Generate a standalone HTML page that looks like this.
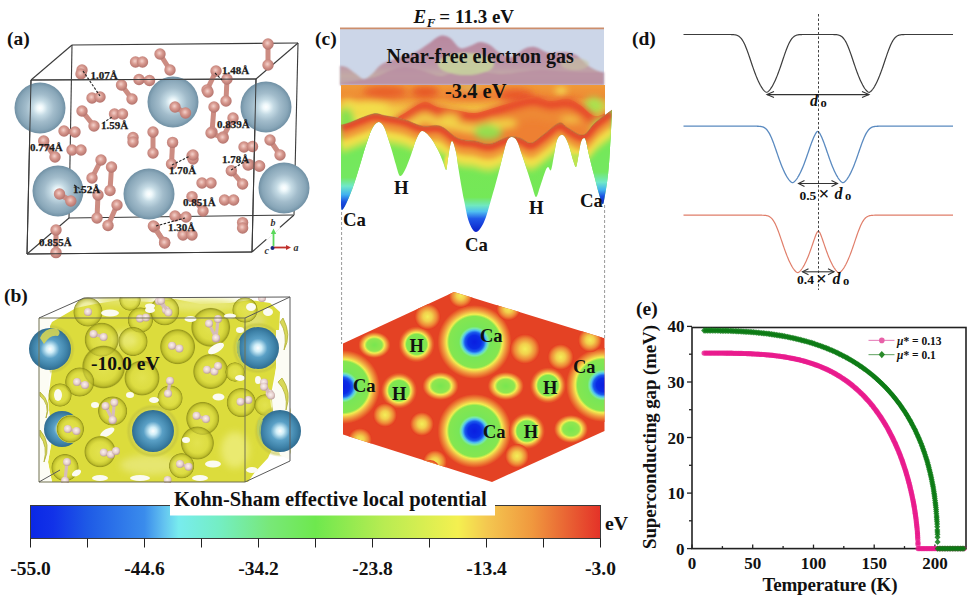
<!DOCTYPE html>
<html><head><meta charset="utf-8"><style>
html,body{margin:0;padding:0;background:#fff;width:970px;height:598px;overflow:hidden}
svg{display:block}
</style></head><body>
<svg width="970" height="598" viewBox="0 0 970 598" font-family="'Liberation Serif', serif" font-weight="bold">
<defs><radialGradient id="gCa" cx="0.5" cy="0.5" r="0.5">
<stop offset="0" stop-color="#ffffff"/><stop offset="0.12" stop-color="#eef8fb"/><stop offset="0.3" stop-color="#c4dae4"/>
<stop offset="0.55" stop-color="#a2bccb"/><stop offset="0.85" stop-color="#88a6b8"/><stop offset="1" stop-color="#7090a4"/></radialGradient><radialGradient id="gH" cx="0.45" cy="0.42" r="0.6">
<stop offset="0" stop-color="#f4d2cc"/><stop offset="0.45" stop-color="#d89a90"/><stop offset="1" stop-color="#b2706a"/></radialGradient><radialGradient id="gCaB" cx="0.5" cy="0.5" r="0.5">
<stop offset="0" stop-color="#ffffff"/><stop offset="0.18" stop-color="#d0eef8"/>
<stop offset="0.45" stop-color="#5aa0c6"/><stop offset="0.8" stop-color="#3e82a8"/><stop offset="1" stop-color="#306c90"/></radialGradient><radialGradient id="gHB" cx="0.45" cy="0.42" r="0.6">
<stop offset="0" stop-color="#fbf2f0"/><stop offset="0.6" stop-color="#e6cfcc"/><stop offset="1" stop-color="#b89a98"/></radialGradient><linearGradient id="gBar" x1="0" x2="1" y1="0" y2="0">
<stop offset="0" stop-color="#0a28e6"/><stop offset="0.04" stop-color="#1232e8"/>
<stop offset="0.1" stop-color="#1e5ae6"/><stop offset="0.2" stop-color="#3a8cec"/>
<stop offset="0.235" stop-color="#64c4f0"/><stop offset="0.26" stop-color="#78ecee"/>
<stop offset="0.33" stop-color="#74eec4"/><stop offset="0.42" stop-color="#78e878"/>
<stop offset="0.5" stop-color="#6ee84e"/><stop offset="0.62" stop-color="#b8ec52"/>
<stop offset="0.75" stop-color="#f4f050"/><stop offset="0.8" stop-color="#f4c850"/>
<stop offset="0.88" stop-color="#f0983e"/><stop offset="0.95" stop-color="#e85c32"/>
<stop offset="1" stop-color="#e43228"/></linearGradient><radialGradient id="gShell" cx="0.5" cy="0.5" r="0.5">
<stop offset="0" stop-color="#e8e860" stop-opacity="0.55"/><stop offset="0.6" stop-color="#dede48" stop-opacity="0.5"/>
<stop offset="0.84" stop-color="#b6b628" stop-opacity="0.7"/><stop offset="0.94" stop-color="#8a8a14" stop-opacity="0.8"/><stop offset="1" stop-color="#a8a830" stop-opacity="0"/></radialGradient><radialGradient id="gShellL" cx="0.5" cy="0.5" r="0.5">
<stop offset="0" stop-color="#f0f090" stop-opacity="0.6"/><stop offset="0.7" stop-color="#e4e468" stop-opacity="0.5"/>
<stop offset="0.9" stop-color="#c0c040" stop-opacity="0.6"/><stop offset="1" stop-color="#c0c040" stop-opacity="0"/></radialGradient><clipPath id="clipB"><rect x="39" y="297" width="252" height="186"/></clipPath><filter id="blur1" x="-20%" y="-20%" width="140%" height="140%"><feGaussianBlur stdDeviation="1.2"/></filter><filter id="blur2" x="-30%" y="-30%" width="160%" height="160%"><feGaussianBlur stdDeviation="2.5"/></filter><filter id="blur3" x="-30%" y="-30%" width="160%" height="160%"><feGaussianBlur stdDeviation="3.5"/></filter><filter id="blur4" x="-30%" y="-30%" width="160%" height="160%"><feGaussianBlur stdDeviation="5"/></filter><clipPath id="clipBack"><path d="M341,85 L612,85 L612,110 C609.2,112.2 599.8,118.8 595,123 C590.2,127.2 587.5,134.2 583,135 C578.5,135.8 572.0,130.0 568,128 C564.0,126.0 563.2,121.8 559,123 C554.8,124.2 547.7,131.7 543,135 C538.3,138.3 534.8,142.5 531,143 C527.2,143.5 523.8,139.0 520,138 C516.2,137.0 513.0,136.0 508,137 C503.0,138.0 495.5,143.3 490,144 C484.5,144.7 479.5,141.7 475,141 C470.5,140.3 466.3,140.4 463,139.7 C459.7,139.0 458.8,139.0 455,136.7 C451.2,134.4 445.5,127.8 440,126 C434.5,124.2 428.0,127.1 422,126 C416.0,124.9 410.2,121.1 404,119.4 C397.8,117.7 389.9,116.5 384.7,115.6 C379.5,114.7 378.6,112.8 372.6,114 C366.6,115.2 353.8,121.2 348.5,123 C343.2,124.8 342.2,124.7 341,125Z"/></clipPath><clipPath id="clipFront"><path d="M341,125 C342.2,124.7 343.2,124.8 348.5,123 C353.8,121.2 366.6,115.2 372.6,114 C378.6,112.8 379.5,114.7 384.7,115.6 C389.9,116.5 397.8,117.7 404,119.4 C410.2,121.1 416.0,124.9 422,126 C428.0,127.1 434.5,124.2 440,126 C445.5,127.8 451.2,134.4 455,136.7 C458.8,139.0 459.7,139.0 463,139.7 C466.3,140.4 470.5,140.3 475,141 C479.5,141.7 484.5,144.7 490,144 C495.5,143.3 503.0,138.0 508,137 C513.0,136.0 516.2,137.0 520,138 C523.8,139.0 527.2,143.5 531,143 C534.8,142.5 538.3,138.3 543,135 C547.7,131.7 554.8,124.2 559,123 C563.2,121.8 564.0,126.0 568,128 C572.0,130.0 578.5,135.8 583,135 C587.5,134.2 590.2,127.2 595,123 C599.8,118.8 609.2,112.2 612,110 L612,110 C611.7,116.7 610.7,139.2 610,150 C609.3,160.8 608.9,167.0 608,175 C607.1,183.0 605.4,193.2 604.5,198 C603.6,202.8 603.5,204.7 602.6,204 C601.7,203.3 600.4,198.8 599,194 C597.6,189.2 595.7,181.5 594,175 C592.3,168.5 590.3,160.7 589,155 C587.7,149.3 586.8,143.8 586,141 C585.2,138.2 584.8,137.8 584,138 C583.2,138.2 582.0,138.7 581,142 C580.0,145.3 578.8,153.8 578,158 C577.2,162.2 576.8,166.7 576,167 C575.2,167.3 574.2,163.5 573,160 C571.8,156.5 570.3,149.8 569,146 C567.7,142.2 566.3,138.8 565,137 C563.7,135.2 562.3,134.5 561,135 C559.7,135.5 558.2,136.7 557,140 C555.8,143.3 555.0,150.0 554,155 C553.0,160.0 552.0,168.0 551,170 C550.0,172.0 549.0,166.7 548,167 C547.0,167.3 546.3,168.7 545,172 C543.7,175.3 541.5,182.8 540,187 C538.5,191.2 537.3,197.2 536,197 C534.7,196.8 533.5,190.5 532,186 C530.5,181.5 528.7,175.2 527,170 C525.3,164.8 523.7,159.8 522,155 C520.3,150.2 518.7,144.0 517,141 C515.3,138.0 513.7,137.0 512,137 C510.3,137.0 508.5,138.0 507,141 C505.5,144.0 504.5,149.3 503,155 C501.5,160.7 500.0,167.5 498,175 C496.0,182.5 493.3,192.2 491,200 C488.7,207.8 486.5,216.7 484,222 C481.5,227.3 478.5,232.0 476,232 C473.5,232.0 471.0,227.3 469,222 C467.0,216.7 465.7,208.3 464,200 C462.3,191.7 460.3,180.0 459,172 C457.7,164.0 457.2,157.2 456,152 C454.8,146.8 453.2,141.0 452,141 C450.8,141.0 449.8,147.8 449,152 C448.2,156.2 447.5,163.0 447,166 C446.5,169.0 446.7,170.7 446,170 C445.3,169.3 444.3,165.3 443,162 C441.7,158.7 440.2,154.2 438,150 C435.8,145.8 432.7,140.2 430,137 C427.3,133.8 424.3,130.5 422,131 C419.7,131.5 417.8,136.0 416,140 C414.2,144.0 412.8,150.0 411,155 C409.2,160.0 406.8,166.5 405,170 C403.2,173.5 401.5,176.8 400,176 C398.5,175.2 397.3,169.2 396,165 C394.7,160.8 393.3,155.5 392,151 C390.7,146.5 389.3,142.0 388,138 C386.7,134.0 385.5,129.7 384,127 C382.5,124.3 380.8,122.0 379,122 C377.2,122.0 375.0,123.7 373,127 C371.0,130.3 369.2,135.7 367,142 C364.8,148.3 362.3,157.5 360,165 C357.7,172.5 355.3,180.5 353,187 C350.7,193.5 347.8,200.2 346,204 C344.2,207.8 342.8,209.8 342,210 C341.2,210.2 341.2,205.8 341,205Z"/></clipPath><clipPath id="clipHex"><path d="M454,292 L604.5,338.3 L604.5,431 L492,482 L343,434.5 L343,343.5Z"/></clipPath><linearGradient id="gBack" x1="0" x2="0" y1="85" y2="145" gradientUnits="userSpaceOnUse"><stop offset="0" stop-color="#f09a38"/><stop offset="0.2" stop-color="#ee8a34"/><stop offset="0.38" stop-color="#f2c444"/><stop offset="0.55" stop-color="#f0e24c"/><stop offset="0.8" stop-color="#a8e454"/><stop offset="1" stop-color="#78e458"/></linearGradient><linearGradient id="gFrontBase" x1="0" x2="0" y1="130" y2="232" gradientUnits="userSpaceOnUse"><stop offset="0" stop-color="#7ae652"/><stop offset="0.66" stop-color="#74e858"/><stop offset="0.74" stop-color="#70e8c0"/><stop offset="0.8" stop-color="#50c0f0"/><stop offset="0.87" stop-color="#2058e8"/><stop offset="1" stop-color="#0a20c8"/></linearGradient><linearGradient id="gSpR" x1="0" x2="0" y1="140" y2="204" gradientUnits="userSpaceOnUse"><stop offset="0" stop-color="#74e858"/><stop offset="0.5" stop-color="#74e860"/><stop offset="0.66" stop-color="#70e8c8"/><stop offset="0.78" stop-color="#40b0f0"/><stop offset="0.88" stop-color="#1a50e0"/><stop offset="1" stop-color="#0a28c0"/></linearGradient><linearGradient id="gSpL" x1="0" x2="0" y1="140" y2="212" gradientUnits="userSpaceOnUse"><stop offset="0" stop-color="#74e858"/><stop offset="0.52" stop-color="#74e860"/><stop offset="0.64" stop-color="#70e8c8"/><stop offset="0.76" stop-color="#40b0f0"/><stop offset="0.86" stop-color="#1a50e0"/><stop offset="1" stop-color="#0a28c0"/></linearGradient><radialGradient id="gHexCa" cx="0.5" cy="0.5" r="0.5"><stop offset="0" stop-color="#0a1ee0"/><stop offset="0.18" stop-color="#0a2ce6"/><stop offset="0.26" stop-color="#1a5aec"/><stop offset="0.32" stop-color="#50c0f0"/><stop offset="0.37" stop-color="#78e8a8"/><stop offset="0.42" stop-color="#78e658"/><stop offset="0.69" stop-color="#84e650"/><stop offset="0.75" stop-color="#f2ee50"/><stop offset="0.85" stop-color="#f0a040"/><stop offset="0.95" stop-color="#e8602a"/><stop offset="1" stop-color="#e44224"/></radialGradient><radialGradient id="gHexH" cx="0.5" cy="0.5" r="0.5"><stop offset="0" stop-color="#78e650"/><stop offset="0.56" stop-color="#80e650"/><stop offset="0.66" stop-color="#f2ee50"/><stop offset="0.78" stop-color="#f0a040"/><stop offset="0.9" stop-color="#e8602a"/><stop offset="1" stop-color="#e44224"/></radialGradient><radialGradient id="gHexY" cx="0.5" cy="0.5" r="0.5"><stop offset="0" stop-color="#f4ee58"/><stop offset="0.35" stop-color="#f2d04c"/><stop offset="0.7" stop-color="#ee8a38"/><stop offset="1" stop-color="#e43a20"/></radialGradient><radialGradient id="gHexG" cx="0.5" cy="0.5" r="0.5"><stop offset="0" stop-color="#78e650"/><stop offset="0.48" stop-color="#90e650"/><stop offset="0.62" stop-color="#f2ee50"/><stop offset="0.78" stop-color="#f0a040"/><stop offset="0.92" stop-color="#e8602a"/><stop offset="1" stop-color="#e44224"/></radialGradient><linearGradient id="gMt" x1="0" x2="0" y1="35" y2="86" gradientUnits="userSpaceOnUse"><stop offset="0" stop-color="#b8889f"/><stop offset="0.55" stop-color="#bc94a8"/><stop offset="0.8" stop-color="#c2aaa6"/><stop offset="1" stop-color="#bca0a8"/></linearGradient><clipPath id="clipR"><rect x="341" y="80" width="264" height="100"/></clipPath></defs>
<g id="pa"><line x1="72" y1="45" x2="298" y2="43" stroke="#3a3a3a" stroke-width="1.1" /><line x1="31" y1="80" x2="256" y2="79" stroke="#3a3a3a" stroke-width="1.1" /><line x1="31" y1="80" x2="72" y2="45" stroke="#3a3a3a" stroke-width="1.1" /><line x1="256" y1="79" x2="298" y2="43" stroke="#3a3a3a" stroke-width="1.1" /><line x1="31" y1="80" x2="27" y2="254" stroke="#3a3a3a" stroke-width="1.1" /><line x1="72" y1="45" x2="69" y2="218" stroke="#3a3a3a" stroke-width="1.1" /><line x1="69" y1="218" x2="293" y2="215" stroke="#3a3a3a" stroke-width="1.1" /><line x1="69" y1="218" x2="27" y2="254" stroke="#3a3a3a" stroke-width="1.1" /><line x1="27" y1="254" x2="252" y2="252" stroke="#3a3a3a" stroke-width="1.1" /><line x1="256" y1="79" x2="252" y2="252" stroke="#3a3a3a" stroke-width="1.1" /><line x1="298" y1="43" x2="294" y2="215" stroke="#3a3a3a" stroke-width="1.1" /><line x1="294" y1="215" x2="252" y2="252" stroke="#3a3a3a" stroke-width="1.1" /><circle cx="40" cy="108" r="25.5" fill="url(#gCa)"/><circle cx="173" cy="102" r="25.5" fill="url(#gCa)"/><circle cx="266" cy="107" r="25.5" fill="url(#gCa)"/><circle cx="58" cy="191" r="25.5" fill="url(#gCa)"/><circle cx="149" cy="194" r="25.5" fill="url(#gCa)"/><circle cx="284" cy="188" r="25.5" fill="url(#gCa)"/><line x1="82" y1="70" x2="81" y2="74" stroke="#cc8c82" stroke-width="5"/><circle cx="82" cy="70" r="5.7" fill="url(#gH)"/><circle cx="81" cy="74" r="5.7" fill="url(#gH)"/><line x1="92" y1="98" x2="100" y2="97" stroke="#cc8c82" stroke-width="5"/><circle cx="92" cy="98" r="5.7" fill="url(#gH)"/><circle cx="100" cy="97" r="5.7" fill="url(#gH)"/><line x1="82" y1="111" x2="94" y2="126" stroke="#cc8c82" stroke-width="5"/><circle cx="82" cy="111" r="5.7" fill="url(#gH)"/><circle cx="94" cy="126" r="5.7" fill="url(#gH)"/><line x1="114.5" y1="114" x2="122.5" y2="114" stroke="#cc8c82" stroke-width="5"/><circle cx="114.5" cy="114" r="5.7" fill="url(#gH)"/><circle cx="122.5" cy="114" r="5.7" fill="url(#gH)"/><line x1="135.5" y1="62" x2="142.5" y2="62" stroke="#cc8c82" stroke-width="5"/><circle cx="135.5" cy="62" r="5.7" fill="url(#gH)"/><circle cx="142.5" cy="62" r="5.7" fill="url(#gH)"/><line x1="160" y1="54" x2="170" y2="70" stroke="#cc8c82" stroke-width="5"/><circle cx="160" cy="54" r="5.7" fill="url(#gH)"/><circle cx="170" cy="70" r="5.7" fill="url(#gH)"/><line x1="139" y1="79.5" x2="149.5" y2="80.5" stroke="#cc8c82" stroke-width="5"/><circle cx="139" cy="79.5" r="5.7" fill="url(#gH)"/><circle cx="149.5" cy="80.5" r="5.7" fill="url(#gH)"/><line x1="121.5" y1="85" x2="132" y2="99" stroke="#cc8c82" stroke-width="5"/><circle cx="121.5" cy="85" r="5.7" fill="url(#gH)"/><circle cx="132" cy="99" r="5.7" fill="url(#gH)"/><line x1="64" y1="131" x2="75" y2="132" stroke="#cc8c82" stroke-width="5"/><circle cx="64" cy="131" r="5.7" fill="url(#gH)"/><circle cx="75" cy="132" r="5.7" fill="url(#gH)"/><line x1="268" y1="44" x2="268" y2="65" stroke="#cc8c82" stroke-width="5"/><circle cx="268" cy="44" r="5.7" fill="url(#gH)"/><circle cx="268" cy="65" r="5.7" fill="url(#gH)"/><line x1="216" y1="71" x2="207" y2="90" stroke="#cc8c82" stroke-width="5"/><circle cx="216" cy="71" r="5.7" fill="url(#gH)"/><circle cx="207" cy="90" r="5.7" fill="url(#gH)"/><line x1="227" y1="79" x2="226" y2="101" stroke="#cc8c82" stroke-width="5"/><circle cx="227" cy="79" r="5.7" fill="url(#gH)"/><circle cx="226" cy="101" r="5.7" fill="url(#gH)"/><line x1="175" y1="107" x2="185.5" y2="113" stroke="#cc8c82" stroke-width="5"/><circle cx="175" cy="107" r="5.7" fill="url(#gH)"/><circle cx="185.5" cy="113" r="5.7" fill="url(#gH)"/><line x1="214" y1="107" x2="212" y2="132" stroke="#cc8c82" stroke-width="5"/><circle cx="214" cy="107" r="5.7" fill="url(#gH)"/><circle cx="212" cy="132" r="5.7" fill="url(#gH)"/><line x1="233" y1="118" x2="223" y2="137" stroke="#cc8c82" stroke-width="5"/><circle cx="233" cy="118" r="5.7" fill="url(#gH)"/><circle cx="223" cy="137" r="5.7" fill="url(#gH)"/><line x1="211" y1="133" x2="223" y2="138" stroke="#cc8c82" stroke-width="5"/><circle cx="211" cy="133" r="5.7" fill="url(#gH)"/><circle cx="223" cy="138" r="5.7" fill="url(#gH)"/><line x1="244" y1="147" x2="252.5" y2="146.5" stroke="#cc8c82" stroke-width="5"/><circle cx="244" cy="147" r="5.7" fill="url(#gH)"/><circle cx="252.5" cy="146.5" r="5.7" fill="url(#gH)"/><line x1="270" y1="140" x2="280" y2="155" stroke="#cc8c82" stroke-width="5"/><circle cx="270" cy="140" r="5.7" fill="url(#gH)"/><circle cx="280" cy="155" r="5.7" fill="url(#gH)"/><line x1="249" y1="164.5" x2="259" y2="166" stroke="#cc8c82" stroke-width="5"/><circle cx="249" cy="164.5" r="5.7" fill="url(#gH)"/><circle cx="259" cy="166" r="5.7" fill="url(#gH)"/><line x1="43.7" y1="141" x2="55" y2="157" stroke="#cc8c82" stroke-width="5"/><circle cx="43.7" cy="141" r="5.7" fill="url(#gH)"/><circle cx="55" cy="157" r="5.7" fill="url(#gH)"/><line x1="72" y1="150" x2="81" y2="150" stroke="#cc8c82" stroke-width="5"/><circle cx="72" cy="150" r="5.7" fill="url(#gH)"/><circle cx="81" cy="150" r="5.7" fill="url(#gH)"/><line x1="133" y1="137.5" x2="133" y2="142" stroke="#cc8c82" stroke-width="5"/><circle cx="133" cy="137.5" r="5.7" fill="url(#gH)"/><circle cx="133" cy="142" r="5.7" fill="url(#gH)"/><line x1="153" y1="132" x2="153" y2="153" stroke="#cc8c82" stroke-width="5"/><circle cx="153" cy="132" r="5.7" fill="url(#gH)"/><circle cx="153" cy="153" r="5.7" fill="url(#gH)"/><line x1="59.5" y1="194" x2="70.8" y2="201" stroke="#cc8c82" stroke-width="5"/><circle cx="59.5" cy="194" r="5.7" fill="url(#gH)"/><circle cx="70.8" cy="201" r="5.7" fill="url(#gH)"/><line x1="92" y1="178" x2="101" y2="160" stroke="#cc8c82" stroke-width="5"/><circle cx="92" cy="178" r="5.7" fill="url(#gH)"/><circle cx="101" cy="160" r="5.7" fill="url(#gH)"/><line x1="111.5" y1="167" x2="110" y2="190.5" stroke="#cc8c82" stroke-width="5"/><circle cx="111.5" cy="167" r="5.7" fill="url(#gH)"/><circle cx="110" cy="190.5" r="5.7" fill="url(#gH)"/><line x1="98" y1="195" x2="97" y2="218" stroke="#cc8c82" stroke-width="5"/><circle cx="98" cy="195" r="5.7" fill="url(#gH)"/><circle cx="97" cy="218" r="5.7" fill="url(#gH)"/><line x1="117" y1="205" x2="108" y2="225.5" stroke="#cc8c82" stroke-width="5"/><circle cx="117" cy="205" r="5.7" fill="url(#gH)"/><circle cx="108" cy="225.5" r="5.7" fill="url(#gH)"/><line x1="154.4" y1="227" x2="164.6" y2="242.5" stroke="#cc8c82" stroke-width="5"/><circle cx="154.4" cy="227" r="5.7" fill="url(#gH)"/><circle cx="164.6" cy="242.5" r="5.7" fill="url(#gH)"/><line x1="56" y1="230" x2="56" y2="252.6" stroke="#cc8c82" stroke-width="5"/><circle cx="56" cy="230" r="5.7" fill="url(#gH)"/><circle cx="56" cy="252.6" r="5.7" fill="url(#gH)"/><line x1="172.6" y1="142.4" x2="171.5" y2="164" stroke="#cc8c82" stroke-width="5"/><circle cx="172.6" cy="142.4" r="5.7" fill="url(#gH)"/><circle cx="171.5" cy="164" r="5.7" fill="url(#gH)"/><line x1="192" y1="156" x2="193" y2="159" stroke="#cc8c82" stroke-width="5"/><circle cx="192" cy="156" r="5.7" fill="url(#gH)"/><circle cx="193" cy="159" r="5.7" fill="url(#gH)"/><line x1="202" y1="183" x2="211" y2="183" stroke="#cc8c82" stroke-width="5"/><circle cx="202" cy="183" r="5.7" fill="url(#gH)"/><circle cx="211" cy="183" r="5.7" fill="url(#gH)"/><line x1="192" y1="196.6" x2="203" y2="211" stroke="#cc8c82" stroke-width="5"/><circle cx="192" cy="196.6" r="5.7" fill="url(#gH)"/><circle cx="203" cy="211" r="5.7" fill="url(#gH)"/><line x1="224.5" y1="200" x2="233.6" y2="200" stroke="#cc8c82" stroke-width="5"/><circle cx="224.5" cy="200" r="5.7" fill="url(#gH)"/><circle cx="233.6" cy="200" r="5.7" fill="url(#gH)"/><line x1="231.3" y1="170.7" x2="242.6" y2="184" stroke="#cc8c82" stroke-width="5"/><circle cx="231.3" cy="170.7" r="5.7" fill="url(#gH)"/><circle cx="242.6" cy="184" r="5.7" fill="url(#gH)"/><line x1="248" y1="165" x2="259.6" y2="166" stroke="#cc8c82" stroke-width="5"/><circle cx="248" cy="165" r="5.7" fill="url(#gH)"/><circle cx="259.6" cy="166" r="5.7" fill="url(#gH)"/><line x1="153.4" y1="226" x2="164.7" y2="243" stroke="#cc8c82" stroke-width="5"/><circle cx="153.4" cy="226" r="5.7" fill="url(#gH)"/><circle cx="164.7" cy="243" r="5.7" fill="url(#gH)"/><line x1="175" y1="216" x2="186" y2="217" stroke="#cc8c82" stroke-width="5"/><circle cx="175" cy="216" r="5.7" fill="url(#gH)"/><circle cx="186" cy="217" r="5.7" fill="url(#gH)"/><line x1="183" y1="235" x2="192" y2="235" stroke="#cc8c82" stroke-width="5"/><circle cx="183" cy="235" r="5.7" fill="url(#gH)"/><circle cx="192" cy="235" r="5.7" fill="url(#gH)"/><line x1="242.6" y1="222.6" x2="242.6" y2="228" stroke="#cc8c82" stroke-width="5"/><circle cx="242.6" cy="222.6" r="5.7" fill="url(#gH)"/><circle cx="242.6" cy="228" r="5.7" fill="url(#gH)"/><circle cx="193" cy="155" r="5.7" fill="url(#gH)"/><circle cx="208" cy="92" r="5.7" fill="url(#gH)"/><line x1="31" y1="80" x2="256" y2="79" stroke="#3a3a3a" stroke-width="1.0" /><line x1="31" y1="80" x2="27" y2="254" stroke="#3a3a3a" stroke-width="1.0" /><line x1="27" y1="254" x2="252" y2="252" stroke="#3a3a3a" stroke-width="1.0" /><line x1="256" y1="79" x2="252" y2="252" stroke="#3a3a3a" stroke-width="1.0" /><line x1="83" y1="71" x2="100" y2="96" stroke="#222" stroke-width="1.1" stroke-dasharray="2.5,1.5"/><line x1="103" y1="123" x2="112" y2="117" stroke="#222" stroke-width="1.1" stroke-dasharray="2.5,1.5"/><line x1="215" y1="73" x2="222" y2="80" stroke="#222" stroke-width="1.1" stroke-dasharray="2.5,1.5"/><line x1="172" y1="165" x2="190" y2="156" stroke="#222" stroke-width="1.1" stroke-dasharray="2.5,1.5"/><line x1="231" y1="170" x2="247" y2="160" stroke="#222" stroke-width="1.1" stroke-dasharray="2.5,1.5"/><line x1="156" y1="226" x2="185" y2="218" stroke="#222" stroke-width="1.1" stroke-dasharray="2.5,1.5"/><line x1="74" y1="185" x2="82" y2="190" stroke="#222" stroke-width="1.1" stroke-dasharray="2.5,1.5"/><line x1="90" y1="188" x2="98" y2="192" stroke="#222" stroke-width="1.1" stroke-dasharray="2.5,1.5"/><text x="90.5" y="78.5" font-size="11" fill="#1a1a1a" stroke="#1a1a1a" stroke-width="0.25">1.07Å</text><text x="101" y="128.5" font-size="11" fill="#1a1a1a" stroke="#1a1a1a" stroke-width="0.25">1.59Å</text><text x="222" y="73.5" font-size="11" fill="#1a1a1a" stroke="#1a1a1a" stroke-width="0.25">1.48Å</text><text x="217" y="128" font-size="11" fill="#1a1a1a" stroke="#1a1a1a" stroke-width="0.25">0.839Å</text><text x="30" y="151" font-size="11" fill="#1a1a1a" stroke="#1a1a1a" stroke-width="0.25">0.774Å</text><text x="73" y="193" font-size="11" fill="#1a1a1a" stroke="#1a1a1a" stroke-width="0.25">1.52Å</text><text x="169" y="174" font-size="11" fill="#1a1a1a" stroke="#1a1a1a" stroke-width="0.25">1.70Å</text><text x="222" y="162.5" font-size="11" fill="#1a1a1a" stroke="#1a1a1a" stroke-width="0.25">1.78Å</text><text x="183" y="205.5" font-size="11" fill="#1a1a1a" stroke="#1a1a1a" stroke-width="0.25">0.851Å</text><text x="168" y="230.5" font-size="11" fill="#1a1a1a" stroke="#1a1a1a" stroke-width="0.25">1.30Å</text><text x="39" y="246" font-size="11" fill="#1a1a1a" stroke="#1a1a1a" stroke-width="0.25">0.855Å</text><line x1="279.5" y1="227" x2="266" y2="239" stroke="#fff" stroke-width="3"/><line x1="273.5" y1="246" x2="273.5" y2="233" stroke="#5ad85a" stroke-width="1.8"/><path d="M270.8,234 L273.5,228.5 L276.2,234Z" fill="#5ad85a"/><line x1="274" y1="247.5" x2="287" y2="247.5" stroke="#c0302c" stroke-width="1.8"/><path d="M286,245 L291,247.5 L286,250Z" fill="#c0302c"/><circle cx="272.5" cy="248" r="2" fill="#1a2a80"/><text x="270.5" y="226" font-size="10" font-style="italic" fill="#333">b</text><text x="293.5" y="250.5" font-size="10" font-style="italic" fill="#333">a</text><text x="264.5" y="253.5" font-size="10" font-style="italic" fill="#333">c</text><text x="7" y="44.7" font-size="19.5" fill="#111">(a)</text></g><g id="pb"><text x="4" y="301.7" font-size="19.5" fill="#111">(b)</text><g clip-path="url(#clipB)"><path d="M46,335 L52,322 L64,315 L76,308 L95,304 L120,300 L150,302 L175,299 L200,304 L230,303 L250,300 L270,303 L280,312 L279,330 L276,368 L270,400 L276,440 L268,458 L255,472 L248,482 L52,482 L48,462 L52,440 L48,400 L52,370 Z" fill="#dcdc3c"/><g filter="url(#blur3)"><ellipse cx="125" cy="340" rx="12" ry="8" fill="#eeee90"/><ellipse cx="235" cy="450" rx="14" ry="18" fill="#eaea70"/><ellipse cx="150" cy="465" rx="30" ry="10" fill="#e6e670"/><ellipse cx="200" cy="305" rx="40" ry="6" fill="#e8e878"/><ellipse cx="125" cy="300" rx="30" ry="5" fill="#e4e470"/><ellipse cx="255" cy="320" rx="10" ry="8" fill="#e0e070"/></g><circle cx="88" cy="312" r="15" fill="url(#gShell)"/><circle cx="101.7" cy="339.7" r="17.5" fill="url(#gShell)"/><circle cx="140.4" cy="320" r="13" fill="url(#gShell)"/><circle cx="103.6" cy="367" r="22" fill="url(#gShell)"/><circle cx="133" cy="341.5" r="15" fill="url(#gShell)"/><circle cx="79.7" cy="382" r="15" fill="url(#gShell)"/><circle cx="142" cy="378" r="18" fill="url(#gShell)"/><circle cx="164.7" cy="310.8" r="15" fill="url(#gShell)"/><circle cx="177.6" cy="346.7" r="18" fill="url(#gShell)"/><circle cx="210.7" cy="327.3" r="20" fill="url(#gShell)"/><circle cx="210.7" cy="371.5" r="18" fill="url(#gShell)"/><circle cx="70.4" cy="429" r="13" fill="url(#gShell)"/><circle cx="100" cy="451.7" r="16" fill="url(#gShell)"/><circle cx="112.6" cy="411" r="15" fill="url(#gShell)"/><circle cx="65" cy="467.6" r="14" fill="url(#gShell)"/><circle cx="202.7" cy="418.4" r="17" fill="url(#gShell)"/><circle cx="241.3" cy="402.6" r="15" fill="url(#gShell)"/><circle cx="197.4" cy="443" r="17" fill="url(#gShell)"/><circle cx="181.6" cy="465.8" r="13" fill="url(#gShell)"/><circle cx="245" cy="310" r="13" fill="url(#gShell)"/><circle cx="60" cy="350" r="10" fill="url(#gShell)"/><circle cx="170" cy="398" r="13" fill="url(#gShell)"/><circle cx="265" cy="405" r="11" fill="url(#gShell)"/><circle cx="235" cy="372" r="10" fill="url(#gShell)"/><circle cx="130" cy="300" r="11" fill="url(#gShell)"/><circle cx="60" cy="395" r="12" fill="url(#gShell)"/><circle cx="153" cy="431" r="27" fill="url(#gShellL)"/><circle cx="258" cy="348" r="26" fill="url(#gShellL)"/><circle cx="280" cy="431" r="26" fill="url(#gShellL)"/><circle cx="50" cy="349" r="25" fill="url(#gShellL)"/><ellipse cx="216" cy="348.5" rx="9" ry="4" transform="rotate(-30 216 348.5)" fill="#fbfbf2"/><ellipse cx="251" cy="307" rx="5" ry="4" transform="rotate(0 251 307)" fill="#fbfbf2"/><ellipse cx="190.5" cy="319" rx="6" ry="3" transform="rotate(0 190.5 319)" fill="#fbfbf2"/><ellipse cx="240" cy="378" rx="5" ry="3" transform="rotate(0 240 378)" fill="#fbfbf2"/><ellipse cx="218.5" cy="397" rx="6" ry="3.5" transform="rotate(0 218.5 397)" fill="#fbfbf2"/><ellipse cx="213" cy="464" rx="8" ry="3.5" transform="rotate(0 213 464)" fill="#fbfbf2"/><ellipse cx="107.3" cy="432.4" rx="8" ry="3.5" transform="rotate(-30 107.3 432.4)" fill="#fbfbf2"/><ellipse cx="76.5" cy="473" rx="5" ry="3" transform="rotate(-30 76.5 473)" fill="#fbfbf2"/><ellipse cx="110" cy="313" rx="9" ry="3.5" transform="rotate(0 110 313)" fill="#fbfbf2"/><ellipse cx="154" cy="400" rx="5" ry="3" transform="rotate(0 154 400)" fill="#fbfbf2"/><ellipse cx="130" cy="395" rx="4" ry="3" transform="rotate(0 130 395)" fill="#fbfbf2"/><ellipse cx="95" cy="405" rx="4" ry="3" transform="rotate(0 95 405)" fill="#fbfbf2"/><ellipse cx="240" cy="330" rx="4" ry="3" transform="rotate(0 240 330)" fill="#fbfbf2"/><ellipse cx="186" cy="440" rx="4" ry="3" transform="rotate(0 186 440)" fill="#fbfbf2"/><ellipse cx="140" cy="478" rx="10" ry="3" transform="rotate(0 140 478)" fill="#fbfbf2"/><ellipse cx="100" cy="478" rx="8" ry="3" transform="rotate(0 100 478)" fill="#fbfbf2"/><ellipse cx="200" cy="478" rx="8" ry="3" transform="rotate(0 200 478)" fill="#fbfbf2"/><ellipse cx="58" cy="395" rx="4" ry="6" transform="rotate(0 58 395)" fill="#fbfbf2"/><ellipse cx="258" cy="380" rx="3" ry="4" transform="rotate(0 258 380)" fill="#fbfbf2"/><ellipse cx="150" cy="306" rx="5" ry="2.5" transform="rotate(0 150 306)" fill="#fbfbf2"/><ellipse cx="230" cy="316" rx="6" ry="2.5" transform="rotate(0 230 316)" fill="#fbfbf2"/><ellipse cx="268" cy="312" rx="5" ry="4" transform="rotate(0 268 312)" fill="#fbfbf2"/><ellipse cx="284" cy="448" rx="6" ry="5" transform="rotate(0 284 448)" fill="#fbfbf2"/><ellipse cx="150" cy="310" rx="5" ry="3" transform="rotate(0 150 310)" fill="#fbfbf2"/><ellipse cx="252" cy="470" rx="6" ry="3" transform="rotate(0 252 470)" fill="#fbfbf2"/><path d="M39,318 L50,318 L50,330 L46,360 L50,372 L48,400 L52,440 L48,462 L52,482 L39,482Z" fill="#fcfcf4"/><path d="M276,330 L290,330 L290,460 L280,455 L276,440 L272,400 L276,368Z" fill="#fcfcf4"/><path d="M40,392 Q52,402 46,418 Q50,404 40,396Z" fill="#d8d858" stroke="#b0b038" stroke-width="0.8"/><path d="M40,430 Q52,444 44,462 Q48,446 40,436Z" fill="#d8d858" stroke="#b0b038" stroke-width="0.8"/><path d="M283,318 Q292,335 284,350 Q288,334 280,322Z" fill="#d8d858" stroke="#b0b038" stroke-width="0.8"/><path d="M282,378 Q292,392 286,410 Q288,392 278,382Z" fill="#d8d858" stroke="#b0b038" stroke-width="0.8"/><circle cx="62" cy="429" r="18" fill="url(#gCaB)"/><circle cx="70.4" cy="429" r="14" fill="#dcdc3c"/><circle cx="70.4" cy="429" r="14" fill="url(#gShell)"/><circle cx="100" cy="451.7" r="16" fill="#dcdc3c"/><circle cx="100" cy="451.7" r="16" fill="url(#gShell)"/></g><circle cx="50" cy="349" r="21" fill="url(#gCaB)"/><circle cx="258" cy="348" r="21" fill="url(#gCaB)"/><circle cx="153" cy="431" r="21" fill="url(#gCaB)"/><circle cx="280" cy="431" r="21" fill="url(#gCaB)"/><path d="M40,338 Q44,328 56,328 Q62,332 58,336 Q50,334 44,344Z" fill="#d4d454" fill-opacity="0.9"/><path d="M240,340 Q238,355 244,366 Q236,356 236,342Z" fill="#b8d060" fill-opacity="0.8"/><path d="M263,420 Q258,432 264,446 Q254,434 258,420Z" fill="#b8d060" fill-opacity="0.8"/><g clip-path="url(#clipB)"><circle cx="88" cy="312" r="4" fill="url(#gHB)"/><line x1="93.5" y1="334" x2="103.6" y2="337" stroke="#d6bcba" stroke-width="3.2"/><circle cx="93.5" cy="334" r="4" fill="url(#gHB)"/><circle cx="103.6" cy="337" r="4" fill="url(#gHB)"/><line x1="140" y1="318.5" x2="146" y2="317.6" stroke="#d6bcba" stroke-width="3.2"/><circle cx="140" cy="318.5" r="4" fill="url(#gHB)"/><circle cx="146" cy="317.6" r="4" fill="url(#gHB)"/><line x1="159" y1="301" x2="166" y2="310" stroke="#d6bcba" stroke-width="3.2"/><circle cx="159" cy="301" r="4" fill="url(#gHB)"/><circle cx="166" cy="310" r="4" fill="url(#gHB)"/><line x1="77" y1="382" x2="85" y2="385" stroke="#d6bcba" stroke-width="3.2"/><circle cx="77" cy="382" r="4" fill="url(#gHB)"/><circle cx="85" cy="385" r="4" fill="url(#gHB)"/><line x1="161" y1="300.6" x2="168.4" y2="312.6" stroke="#d6bcba" stroke-width="3.2"/><circle cx="161" cy="300.6" r="4" fill="url(#gHB)"/><circle cx="168.4" cy="312.6" r="4" fill="url(#gHB)"/><line x1="218" y1="319" x2="216" y2="338.4" stroke="#d6bcba" stroke-width="3.2"/><circle cx="218" cy="319" r="4" fill="url(#gHB)"/><circle cx="216" cy="338.4" r="4" fill="url(#gHB)"/><line x1="209" y1="323.6" x2="216" y2="338" stroke="#d6bcba" stroke-width="3.2"/><circle cx="209" cy="323.6" r="4" fill="url(#gHB)"/><circle cx="216" cy="338" r="4" fill="url(#gHB)"/><line x1="172" y1="345.7" x2="179.4" y2="348.5" stroke="#d6bcba" stroke-width="3.2"/><circle cx="172" cy="345.7" r="4" fill="url(#gHB)"/><circle cx="179.4" cy="348.5" r="4" fill="url(#gHB)"/><line x1="207" y1="369.7" x2="214.4" y2="371.5" stroke="#d6bcba" stroke-width="3.2"/><circle cx="207" cy="369.7" r="4" fill="url(#gHB)"/><circle cx="214.4" cy="371.5" r="4" fill="url(#gHB)"/><circle cx="218" cy="366" r="4" fill="url(#gHB)"/><line x1="170" y1="380.7" x2="168" y2="393.6" stroke="#d6bcba" stroke-width="3.2"/><circle cx="170" cy="380.7" r="4" fill="url(#gHB)"/><circle cx="168" cy="393.6" r="4" fill="url(#gHB)"/><circle cx="262" cy="298" r="4" fill="url(#gHB)"/><line x1="264" y1="382.5" x2="269.6" y2="393.6" stroke="#d6bcba" stroke-width="3.2"/><circle cx="264" cy="382.5" r="4" fill="url(#gHB)"/><circle cx="269.6" cy="393.6" r="4" fill="url(#gHB)"/><line x1="67.8" y1="429" x2="76.5" y2="431" stroke="#d6bcba" stroke-width="3.2"/><circle cx="67.8" cy="429" r="4" fill="url(#gHB)"/><circle cx="76.5" cy="431" r="4" fill="url(#gHB)"/><line x1="114.3" y1="402.6" x2="112.6" y2="420" stroke="#d6bcba" stroke-width="3.2"/><circle cx="114.3" cy="402.6" r="4" fill="url(#gHB)"/><circle cx="112.6" cy="420" r="4" fill="url(#gHB)"/><line x1="105.5" y1="406" x2="112.6" y2="420" stroke="#d6bcba" stroke-width="3.2"/><circle cx="105.5" cy="406" r="4" fill="url(#gHB)"/><circle cx="112.6" cy="420" r="4" fill="url(#gHB)"/><line x1="103.8" y1="452.6" x2="110.8" y2="454.4" stroke="#d6bcba" stroke-width="3.2"/><circle cx="103.8" cy="452.6" r="4" fill="url(#gHB)"/><circle cx="110.8" cy="454.4" r="4" fill="url(#gHB)"/><circle cx="116" cy="451" r="4" fill="url(#gHB)"/><line x1="67" y1="462" x2="65" y2="480.7" stroke="#d6bcba" stroke-width="3.2"/><circle cx="67" cy="462" r="4" fill="url(#gHB)"/><circle cx="65" cy="480.7" r="4" fill="url(#gHB)"/><line x1="196.5" y1="415.7" x2="206" y2="419" stroke="#d6bcba" stroke-width="3.2"/><circle cx="196.5" cy="415.7" r="4" fill="url(#gHB)"/><circle cx="206" cy="419" r="4" fill="url(#gHB)"/><line x1="240.5" y1="401.7" x2="248.4" y2="400" stroke="#d6bcba" stroke-width="3.2"/><circle cx="240.5" cy="401.7" r="4" fill="url(#gHB)"/><circle cx="248.4" cy="400" r="4" fill="url(#gHB)"/><line x1="264" y1="386.8" x2="271" y2="395.5" stroke="#d6bcba" stroke-width="3.2"/><circle cx="264" cy="386.8" r="4" fill="url(#gHB)"/><circle cx="271" cy="395.5" r="4" fill="url(#gHB)"/><line x1="180" y1="464" x2="188.6" y2="466.7" stroke="#d6bcba" stroke-width="3.2"/><circle cx="180" cy="464" r="4" fill="url(#gHB)"/><circle cx="188.6" cy="466.7" r="4" fill="url(#gHB)"/><circle cx="167.6" cy="480" r="4" fill="url(#gHB)"/></g><line x1="39" y1="318" x2="245" y2="318" stroke="#707050" stroke-width="1.0" /><line x1="84" y1="298" x2="290" y2="297" stroke="#5a5a5a" stroke-width="1.0" /><line x1="39" y1="318" x2="84" y2="298" stroke="#5a5a5a" stroke-width="1.0" /><line x1="245" y1="318" x2="290" y2="297" stroke="#5a5a5a" stroke-width="1.0" /><line x1="39" y1="318" x2="39" y2="482" stroke="#707050" stroke-width="1.0" /><line x1="39" y1="482" x2="245" y2="482" stroke="#707050" stroke-width="1.0" /><line x1="245" y1="318" x2="245" y2="482" stroke="#707050" stroke-width="1.0" /><line x1="290" y1="297" x2="290" y2="461" stroke="#5a5a5a" stroke-width="1.0" /><line x1="245" y1="482" x2="290" y2="461" stroke="#5a5a5a" stroke-width="1.0" /><line x1="39" y1="482" x2="60" y2="470" stroke="#5a5a5a" stroke-width="1.0" /><text x="91" y="370" font-size="19.6" fill="#111">-10.0 eV</text></g><g id="pcb"><rect x="30.5" y="505.5" width="570" height="33" fill="url(#gBar)" stroke="#3a3a3a" stroke-width="1"/><rect x="170" y="486" width="325" height="29.5" fill="#fff"/><text x="174" y="506" font-size="20.5" fill="#111">Kohn-Sham effective local potential</text><line x1="30.5" y1="538.5" x2="30.5" y2="547.5" stroke="#222" stroke-width="1"/><line x1="87.5" y1="538.5" x2="87.5" y2="547.5" stroke="#222" stroke-width="1"/><line x1="144.5" y1="538.5" x2="144.5" y2="547.5" stroke="#222" stroke-width="1"/><line x1="201.5" y1="538.5" x2="201.5" y2="547.5" stroke="#222" stroke-width="1"/><line x1="258.5" y1="538.5" x2="258.5" y2="547.5" stroke="#222" stroke-width="1"/><line x1="315.5" y1="538.5" x2="315.5" y2="547.5" stroke="#222" stroke-width="1"/><line x1="372.5" y1="538.5" x2="372.5" y2="547.5" stroke="#222" stroke-width="1"/><line x1="429.5" y1="538.5" x2="429.5" y2="547.5" stroke="#222" stroke-width="1"/><line x1="486.5" y1="538.5" x2="486.5" y2="547.5" stroke="#222" stroke-width="1"/><line x1="543.5" y1="538.5" x2="543.5" y2="547.5" stroke="#222" stroke-width="1"/><line x1="600.5" y1="538.5" x2="600.5" y2="547.5" stroke="#222" stroke-width="1"/><text x="30.5" y="575" font-size="19.5" text-anchor="middle" fill="#111">-55.0</text><text x="144.5" y="575" font-size="19.5" text-anchor="middle" fill="#111">-44.6</text><text x="258.5" y="575" font-size="19.5" text-anchor="middle" fill="#111">-34.2</text><text x="372.5" y="575" font-size="19.5" text-anchor="middle" fill="#111">-23.8</text><text x="486.5" y="575" font-size="19.5" text-anchor="middle" fill="#111">-13.4</text><text x="600.5" y="575" font-size="19.5" text-anchor="middle" fill="#111">-3.0</text><text x="605" y="529.5" font-size="19.8" fill="#111">eV</text></g><g id="pc"><text x="315" y="44.7" font-size="19.5" fill="#111">(c)</text><text x="413.5" y="23.3" font-size="19" fill="#111"><tspan font-style="italic">E</tspan><tspan font-style="italic" font-size="13" dy="3.4" dx="0.5">F</tspan><tspan dy="-3.4" dx="4">= 11.3 eV</tspan></text><rect x="340" y="28.5" width="264" height="57" fill="#ccd6e8"/><g filter="url(#blur1)"><clipPath id="cm"><rect x="340" y="29" width="264" height="56"/></clipPath><g clip-path="url(#cm)"><path d="M338,66 C339.3,66.2 343.0,65.7 346,67 C349.0,68.3 353.0,72.0 356,74 C359.0,76.0 361.3,79.0 364,79 C366.7,79.0 369.0,76.5 372,74 C375.0,71.5 377.7,66.7 382,64 C386.3,61.3 392.7,59.8 398,58 C403.3,56.2 409.0,55.3 414,53 C419.0,50.7 423.7,46.8 428,44 C432.3,41.2 436.3,37.0 440,36 C443.7,35.0 446.7,36.0 450,38 C453.3,40.0 456.7,46.7 460,48 C463.3,49.3 466.7,47.0 470,46 C473.3,45.0 476.7,42.2 480,42 C483.3,41.8 486.7,43.2 490,45 C493.3,46.8 496.3,51.0 500,53 C503.7,55.0 508.0,57.7 512,57 C516.0,56.3 520.2,50.7 524,49 C527.8,47.3 530.8,46.3 535,47 C539.2,47.7 544.3,52.2 549,53 C553.7,53.8 558.5,51.7 563,52 C567.5,52.3 571.5,52.5 576,55 C580.5,57.5 585.3,64.0 590,67 C594.7,70.0 600.7,71.8 604,73 C607.3,74.2 609.0,73.8 610,74 L610,90 L338,90Z" fill="url(#gMt)"/><path d="M338,84 C341.7,83.3 353.8,81.2 360,80 C366.2,78.8 369.7,78.7 375,77 C380.3,75.3 387.0,71.7 392,70 C397.0,68.3 400.3,67.0 405,67 C409.7,67.0 414.2,68.5 420,70 C425.8,71.5 434.2,75.7 440,76 C445.8,76.3 450.0,73.0 455,72 C460.0,71.0 462.5,69.7 470,70 C477.5,70.3 491.7,73.7 500,74 C508.3,74.3 513.3,72.7 520,72 C526.7,71.3 533.3,70.2 540,70 C546.7,69.8 553.3,70.7 560,71 C566.7,71.3 572.7,71.8 580,72 C587.3,72.2 599.0,72.0 604,72 C609.0,72.0 609.0,72.0 610,72 L610,90 L338,90Z" fill="#b88ca2" fill-opacity="0.75"/><ellipse cx="466" cy="64" rx="28" ry="11" fill="#c8d89c" fill-opacity="0.8"/><ellipse cx="575" cy="64" rx="14" ry="6" fill="#c8c4a4" fill-opacity="0.6"/></g></g><line x1="340" y1="28.3" x2="604" y2="28.3" stroke="#cc8e6c" stroke-width="1.8"/><text x="386.5" y="63.3" font-size="20" fill="#111">Near-free electron gas</text><g clip-path="url(#clipR)"><g clip-path="url(#clipBack)"><rect x="341" y="85" width="271" height="62" fill="url(#gBack)"/><g filter="url(#blur3)"><ellipse cx="385" cy="92" rx="22" ry="6" fill="#e85a2a" fill-opacity="0.9"/><ellipse cx="425" cy="92" rx="14" ry="5" fill="#e44a26" fill-opacity="0.9"/><ellipse cx="470" cy="95" rx="25" ry="5" fill="#ec6a2c" fill-opacity="0.7"/><ellipse cx="515" cy="95" rx="18" ry="6" fill="#e8502a" fill-opacity="0.85"/><ellipse cx="561" cy="91" rx="6" ry="4" fill="#f4e458" fill-opacity="0.95"/><ellipse cx="368" cy="108" rx="22" ry="6" fill="#f2e04c" fill-opacity="0.95"/><ellipse cx="346" cy="122" rx="8" ry="16" fill="#80e050" fill-opacity="0.95"/><ellipse cx="348" cy="104" rx="8" ry="5" fill="#f2e04c" fill-opacity="0.8"/><ellipse cx="594" cy="106" rx="10" ry="9" fill="#a8e450" fill-opacity="0.95"/><ellipse cx="470" cy="88" rx="10" ry="3" fill="#c8d880" fill-opacity="0.6"/></g><path d="M390,122 C392.5,120.5 399.3,116.3 405,113 C410.7,109.7 418.7,103.0 424,102 C429.3,101.0 431.8,105.7 437,107 C442.2,108.3 448.7,109.0 455,110 C461.3,111.0 468.0,113.5 475,113 C482.0,112.5 487.7,109.7 497,107 C506.3,104.3 522.2,98.0 531,97 C539.8,96.0 543.8,100.7 550,101 C556.2,101.3 563.0,98.3 568,99 C573.0,99.7 575.5,102.2 580,105 C584.5,107.8 589.7,115.2 595,116 C600.3,116.8 609.2,111.0 612,110 L612,150 L390,150Z" fill="#ee8032"/><g filter="url(#blur3)"><path d="M390,138 C392.5,136.5 399.3,132.3 405,129 C410.7,125.7 418.7,119.0 424,118 C429.3,117.0 431.8,121.7 437,123 C442.2,124.3 448.7,125.0 455,126 C461.3,127.0 468.0,129.5 475,129 C482.0,128.5 493.3,124.0 497,123" fill="none" stroke="#f2d04a" stroke-width="9"/><path d="M497,124 C502.7,122.3 522.2,115.0 531,114 C539.8,113.0 543.8,117.7 550,118 C556.2,118.3 563.0,115.3 568,116 C573.0,116.7 575.5,119.2 580,122 C584.5,124.8 589.7,132.2 595,133 C600.3,133.8 609.2,128.0 612,127" fill="none" stroke="#ee8a34" stroke-width="9"/><path d="M390,126 C392.5,124.5 399.3,120.3 405,117 C410.7,113.7 418.7,107.0 424,106 C429.3,105.0 431.8,109.7 437,111 C442.2,112.3 448.7,113.0 455,114 C461.3,115.0 468.0,117.5 475,117 C482.0,116.5 487.7,113.7 497,111 C506.3,108.3 522.2,102.0 531,101 C539.8,100.0 543.8,104.7 550,105 C556.2,105.3 563.0,102.3 568,103 C573.0,103.7 575.5,106.2 580,109 C584.5,111.8 589.7,119.2 595,120 C600.3,120.8 609.2,115.0 612,114" fill="none" stroke="#e6402a" stroke-width="8"/><ellipse cx="488" cy="132" rx="14" ry="8" fill="#90e050" fill-opacity="0.95"/><ellipse cx="505" cy="124" rx="12" ry="5" fill="#f2e04a" fill-opacity="0.8"/><ellipse cx="600" cy="128" rx="8" ry="10" fill="#a0e450" fill-opacity="0.9"/><ellipse cx="450" cy="118" rx="10" ry="5" fill="#f2e04a" fill-opacity="0.8"/><ellipse cx="570" cy="120" rx="10" ry="4" fill="#f2c848" fill-opacity="0.8"/></g></g></g><g clip-path="url(#clipFront)"><rect x="340" y="100" width="275" height="135" fill="url(#gFrontBase)"/><path d="M584,110 L612,110 L612,215 L580,215Z" fill="url(#gSpR)"/><path d="M335,110 L378,110 L378,215 L335,215Z" fill="url(#gSpL)"/><g filter="url(#blur2)"><path d="M341,150 C342.2,149.7 343.2,149.8 348.5,148 C353.8,146.2 366.6,140.2 372.6,139 C378.6,137.8 379.5,139.7 384.7,140.6 C389.9,141.5 397.8,142.7 404,144.4 C410.2,146.1 416.0,149.9 422,151 C428.0,152.1 434.5,149.2 440,151 C445.5,152.8 451.2,159.4 455,161.7 C458.8,164.0 459.7,164.0 463,164.7 C466.3,165.4 470.5,165.3 475,166 C479.5,166.7 484.5,169.7 490,169 C495.5,168.3 503.0,163.0 508,162 C513.0,161.0 516.2,162.0 520,163 C523.8,164.0 527.2,168.5 531,168 C534.8,167.5 538.3,163.3 543,160 C547.7,156.7 554.8,149.2 559,148 C563.2,146.8 564.0,151.0 568,153 C572.0,155.0 578.5,160.8 583,160 C587.5,159.2 590.2,152.2 595,148 C599.8,143.8 609.2,137.2 612,135" fill="none" stroke="#b8e450" stroke-width="7"/><path d="M341,144 C342.2,143.7 343.2,143.8 348.5,142 C353.8,140.2 366.6,134.2 372.6,133 C378.6,131.8 379.5,133.7 384.7,134.6 C389.9,135.5 397.8,136.7 404,138.4 C410.2,140.1 416.0,143.9 422,145 C428.0,146.1 434.5,143.2 440,145 C445.5,146.8 451.2,153.4 455,155.7 C458.8,158.0 459.7,158.0 463,158.7 C466.3,159.4 470.5,159.3 475,160 C479.5,160.7 484.5,163.7 490,163 C495.5,162.3 503.0,157.0 508,156 C513.0,155.0 516.2,156.0 520,157 C523.8,158.0 527.2,162.5 531,162 C534.8,161.5 538.3,157.3 543,154 C547.7,150.7 554.8,143.2 559,142 C563.2,140.8 564.0,145.0 568,147 C572.0,149.0 578.5,154.8 583,154 C587.5,153.2 590.2,146.2 595,142 C599.8,137.8 609.2,131.2 612,129" fill="none" stroke="#f2e04a" stroke-width="8"/><path d="M341,136 C342.2,135.7 343.2,135.8 348.5,134 C353.8,132.2 366.6,126.2 372.6,125 C378.6,123.8 379.5,125.7 384.7,126.6 C389.9,127.5 397.8,128.7 404,130.4 C410.2,132.1 416.0,135.9 422,137 C428.0,138.1 434.5,135.2 440,137 C445.5,138.8 451.2,145.4 455,147.7 C458.8,150.0 459.7,150.0 463,150.7 C466.3,151.4 470.5,151.3 475,152 C479.5,152.7 484.5,155.7 490,155 C495.5,154.3 503.0,149.0 508,148 C513.0,147.0 516.2,148.0 520,149 C523.8,150.0 527.2,154.5 531,154 C534.8,153.5 538.3,149.3 543,146 C547.7,142.7 554.8,135.2 559,134 C563.2,132.8 564.0,137.0 568,139 C572.0,141.0 578.5,146.8 583,146 C587.5,145.2 590.2,138.2 595,134 C599.8,129.8 609.2,123.2 612,121" fill="none" stroke="#f09a38" stroke-width="9"/><path d="M341,128 C342.2,127.7 343.2,127.8 348.5,126 C353.8,124.2 366.6,118.2 372.6,117 C378.6,115.8 379.5,117.7 384.7,118.6 C389.9,119.5 397.8,120.7 404,122.4 C410.2,124.1 416.0,127.9 422,129 C428.0,130.1 434.5,127.2 440,129 C445.5,130.8 451.2,137.4 455,139.7 C458.8,142.0 459.7,142.0 463,142.7 C466.3,143.4 470.5,143.3 475,144 C479.5,144.7 484.5,147.7 490,147 C495.5,146.3 503.0,141.0 508,140 C513.0,139.0 516.2,140.0 520,141 C523.8,142.0 527.2,146.5 531,146 C534.8,145.5 538.3,141.3 543,138 C547.7,134.7 554.8,127.2 559,126 C563.2,124.8 564.0,129.0 568,131 C572.0,133.0 578.5,138.8 583,138 C587.5,137.2 590.2,130.2 595,126 C599.8,121.8 609.2,115.2 612,113" fill="none" stroke="#e6442a" stroke-width="9"/></g><ellipse cx="448" cy="163" rx="4" ry="8" fill="#f2e04a" filter="url(#blur1)"/><ellipse cx="576" cy="162" rx="5" ry="8" fill="#c0e450" filter="url(#blur1)"/></g><path d="M341,125 C342.2,124.7 343.2,124.8 348.5,123 C353.8,121.2 366.6,115.2 372.6,114 C378.6,112.8 379.5,114.7 384.7,115.6 C389.9,116.5 397.8,117.7 404,119.4 C410.2,121.1 416.0,124.9 422,126 C428.0,127.1 434.5,124.2 440,126 C445.5,127.8 451.2,134.4 455,136.7 C458.8,139.0 459.7,139.0 463,139.7 C466.3,140.4 470.5,140.3 475,141 C479.5,141.7 484.5,144.7 490,144 C495.5,143.3 503.0,138.0 508,137 C513.0,136.0 516.2,137.0 520,138 C523.8,139.0 527.2,143.5 531,143 C534.8,142.5 538.3,138.3 543,135 C547.7,131.7 554.8,124.2 559,123 C563.2,121.8 564.0,126.0 568,128 C572.0,130.0 578.5,135.8 583,135 C587.5,134.2 590.2,127.2 595,123 C599.8,118.8 609.2,112.2 612,110" fill="none" stroke="#d0402a" stroke-width="0.8" stroke-opacity="0.5"/><text x="445" y="97.5" font-size="20.5" fill="#111">-3.4 eV</text><line x1="341.6" y1="212" x2="341.6" y2="344" stroke="#999" stroke-width="1" stroke-dasharray="3,2"/><line x1="604.6" y1="205" x2="604.6" y2="338" stroke="#999" stroke-width="1" stroke-dasharray="3,2"/><text x="343" y="225.5" font-size="18.8" fill="#111">Ca</text><text x="394" y="194" font-size="18.8" fill="#111">H</text><text x="465" y="250.5" font-size="18.8" fill="#111">Ca</text><text x="529" y="214" font-size="18.8" fill="#111">H</text><text x="580" y="206.5" font-size="18.8" fill="#111">Ca</text><g clip-path="url(#clipHex)"><rect x="340" y="290" width="270" height="195" fill="#e44224"/><circle cx="474.5" cy="342" r="37" fill="url(#gHexCa)"/><circle cx="474.5" cy="431" r="37" fill="url(#gHexCa)"/><circle cx="343" cy="387" r="37" fill="url(#gHexCa)"/><circle cx="603" cy="385" r="37" fill="url(#gHexCa)"/><circle cx="416.6" cy="344.3" r="18" fill="url(#gHexH)"/><circle cx="399" cy="390.6" r="18" fill="url(#gHexH)"/><circle cx="548" cy="385.4" r="18" fill="url(#gHexH)"/><circle cx="527" cy="431" r="18" fill="url(#gHexH)"/><ellipse cx="374.4" cy="345" rx="16" ry="13" fill="url(#gHexG)"/><ellipse cx="440.5" cy="386" rx="18" ry="14" fill="url(#gHexG)"/><ellipse cx="505.8" cy="386" rx="18" ry="14" fill="url(#gHexG)"/><ellipse cx="571" cy="429" rx="17" ry="14" fill="url(#gHexG)"/><circle cx="427.6" cy="316.7" r="13" fill="url(#gHexY)"/><circle cx="460.7" cy="295.5" r="12" fill="url(#gHexY)"/><circle cx="508.5" cy="308.4" r="12" fill="url(#gHexY)"/><circle cx="525" cy="349" r="15" fill="url(#gHexY)"/><circle cx="560.6" cy="357" r="13" fill="url(#gHexY)"/><circle cx="421.9" cy="424" r="12" fill="url(#gHexY)"/><circle cx="385" cy="415" r="12" fill="url(#gHexY)"/><circle cx="517" cy="456" r="12" fill="url(#gHexY)"/><circle cx="590" cy="340" r="12" fill="url(#gHexY)"/><circle cx="360" cy="440" r="12" fill="url(#gHexY)"/><circle cx="435" cy="462" r="12" fill="url(#gHexY)"/><circle cx="430" cy="470" r="10" fill="url(#gHexY)"/></g><text x="480" y="341.5" font-size="18.5" fill="#111">Ca</text><text x="409.5" y="352" font-size="18.5" fill="#111">H</text><text x="353" y="392" font-size="18.5" fill="#111">Ca</text><text x="392" y="399.5" font-size="18.5" fill="#111">H</text><text x="543" y="394" font-size="18.5" fill="#111">H</text><text x="573" y="373" font-size="18.5" fill="#111">Ca</text><text x="483" y="438" font-size="18.5" fill="#111">Ca</text><text x="523.7" y="438" font-size="18.5" fill="#111">H</text></g><g id="pd"><text x="632" y="44.6" font-size="19.5" fill="#111">(d)</text><path d="M683.50,34.50 L684.00,34.50 L684.50,34.50 L685.00,34.50 L685.50,34.50 L686.00,34.50 L686.49,34.50 L686.99,34.50 L687.49,34.50 L687.99,34.50 L688.49,34.50 L688.99,34.50 L689.49,34.50 L689.99,34.50 L690.49,34.50 L690.99,34.50 L691.49,34.50 L691.98,34.50 L692.48,34.50 L692.98,34.50 L693.48,34.50 L693.98,34.50 L694.48,34.50 L694.98,34.50 L695.48,34.50 L695.98,34.50 L696.48,34.50 L696.98,34.50 L697.47,34.50 L697.97,34.50 L698.47,34.50 L698.97,34.50 L699.47,34.50 L699.97,34.50 L700.47,34.50 L700.97,34.50 L701.47,34.50 L701.97,34.50 L702.46,34.50 L702.96,34.50 L703.46,34.50 L703.96,34.50 L704.46,34.50 L704.96,34.50 L705.46,34.50 L705.96,34.50 L706.46,34.50 L706.96,34.50 L707.46,34.50 L707.95,34.50 L708.45,34.50 L708.95,34.50 L709.45,34.50 L709.95,34.50 L710.45,34.50 L710.95,34.50 L711.45,34.50 L711.95,34.50 L712.45,34.50 L712.95,34.50 L713.44,34.50 L713.94,34.50 L714.44,34.50 L714.94,34.50 L715.44,34.50 L715.94,34.50 L716.44,34.50 L716.94,34.50 L717.44,34.50 L717.94,34.50 L718.44,34.50 L718.93,34.50 L719.43,34.50 L719.93,34.50 L720.43,34.50 L720.93,34.50 L721.43,34.50 L721.93,34.50 L722.43,34.50 L722.93,34.50 L723.43,34.50 L723.92,34.50 L724.42,34.50 L724.92,34.50 L725.42,34.50 L725.92,34.50 L726.42,34.50 L726.92,34.50 L727.42,34.50 L727.92,34.50 L728.42,34.50 L728.92,34.50 L729.41,34.51 L729.91,34.51 L730.41,34.52 L730.91,34.52 L731.41,34.53 L731.91,34.55 L732.41,34.56 L732.91,34.59 L733.41,34.62 L733.91,34.66 L734.41,34.72 L734.90,34.79 L735.40,34.88 L735.90,34.98 L736.40,35.12 L736.90,35.28 L737.40,35.47 L737.90,35.71 L738.40,35.98 L738.90,36.30 L739.40,36.67 L739.90,37.09 L740.39,37.57 L740.89,38.11 L741.39,38.72 L741.89,39.39 L742.39,40.13 L742.89,40.94 L743.39,41.82 L743.89,42.77 L744.39,43.78 L744.89,44.86 L745.39,46.00 L745.88,47.19 L746.38,48.44 L746.88,49.74 L747.38,51.09 L747.88,52.47 L748.38,53.89 L748.88,55.33 L749.38,56.79 L749.88,58.27 L750.38,59.76 L750.88,61.25 L751.37,62.74 L751.87,64.23 L752.37,65.70 L752.87,67.15 L753.37,68.59 L753.87,70.00 L754.37,71.38 L754.87,72.74 L755.37,74.06 L755.87,75.35 L756.36,76.60 L756.86,77.82 L757.36,79.00 L757.86,80.13 L758.36,81.23 L758.86,82.28 L759.36,83.29 L759.86,84.26 L760.36,85.19 L760.86,86.07 L761.36,86.91 L761.85,87.70 L762.35,88.44 L762.85,89.13 L763.35,89.78 L763.85,90.36 L764.35,90.89 L764.85,91.35 L765.35,91.75 L765.85,92.05 L766.35,92.26 L766.85,92.26 L767.34,92.06 L767.84,91.75 L768.34,91.36 L768.84,90.90 L769.34,90.37 L769.84,89.79 L770.34,89.15 L770.84,88.45 L771.34,87.71 L771.84,86.92 L772.34,86.08 L772.83,85.20 L773.33,84.28 L773.83,83.31 L774.33,82.30 L774.83,81.25 L775.33,80.15 L775.83,79.01 L776.33,77.84 L776.83,76.62 L777.33,75.37 L777.83,74.08 L778.32,72.76 L778.82,71.41 L779.32,70.02 L779.82,68.61 L780.32,67.18 L780.82,65.72 L781.32,64.25 L781.82,62.77 L782.32,61.28 L782.82,59.78 L783.31,58.30 L783.81,56.82 L784.31,55.35 L784.81,53.91 L785.31,52.49 L785.81,51.11 L786.31,49.77 L786.81,48.47 L787.31,47.21 L787.81,46.02 L788.31,44.88 L788.80,43.80 L789.30,42.78 L789.80,41.84 L790.30,40.96 L790.80,40.15 L791.30,39.41 L791.80,38.73 L792.30,38.12 L792.80,37.58 L793.30,37.10 L793.80,36.67 L794.29,36.30 L794.79,35.98 L795.29,35.71 L795.79,35.48 L796.29,35.28 L796.79,35.12 L797.29,34.99 L797.79,34.88 L798.29,34.79 L798.79,34.72 L799.29,34.67 L799.78,34.62 L800.28,34.59 L800.78,34.57 L801.28,34.55 L801.78,34.53 L802.28,34.52 L802.78,34.52 L803.28,34.51 L803.78,34.51 L804.28,34.50 L804.77,34.50 L805.27,34.50 L805.77,34.50 L806.27,34.50 L806.77,34.50 L807.27,34.50 L807.77,34.50 L808.27,34.50 L808.77,34.50 L809.27,34.50 L809.77,34.50 L810.26,34.50 L810.76,34.50 L811.26,34.50 L811.76,34.50 L812.26,34.50 L812.76,34.50 L813.26,34.50 L813.76,34.50 L814.26,34.50 L814.76,34.50 L815.26,34.50 L815.75,34.50 L816.25,34.50 L816.75,34.50 L817.25,34.50 L817.75,34.50 L818.25,34.50 L818.75,34.50 L819.25,34.50 L819.75,34.50 L820.25,34.50 L820.75,34.50 L821.24,34.50 L821.74,34.50 L822.24,34.50 L822.74,34.50 L823.24,34.50 L823.74,34.50 L824.24,34.50 L824.74,34.50 L825.24,34.50 L825.74,34.50 L826.24,34.50 L826.73,34.50 L827.23,34.50 L827.73,34.50 L828.23,34.50 L828.73,34.50 L829.23,34.50 L829.73,34.50 L830.23,34.50 L830.73,34.50 L831.23,34.50 L831.73,34.51 L832.22,34.51 L832.72,34.51 L833.22,34.52 L833.72,34.53 L834.22,34.54 L834.72,34.56 L835.22,34.58 L835.72,34.62 L836.22,34.66 L836.72,34.71 L837.21,34.77 L837.71,34.86 L838.21,34.96 L838.71,35.09 L839.21,35.25 L839.71,35.44 L840.21,35.66 L840.71,35.93 L841.21,36.24 L841.71,36.60 L842.21,37.01 L842.70,37.48 L843.20,38.01 L843.70,38.61 L844.20,39.27 L844.70,40.00 L845.20,40.79 L845.70,41.66 L846.20,42.59 L846.70,43.59 L847.20,44.66 L847.70,45.79 L848.19,46.97 L848.69,48.22 L849.19,49.51 L849.69,50.84 L850.19,52.22 L850.69,53.63 L851.19,55.07 L851.69,56.53 L852.19,58.01 L852.69,59.49 L853.19,60.98 L853.68,62.47 L854.18,63.96 L854.68,65.43 L855.18,66.89 L855.68,68.33 L856.18,69.75 L856.68,71.14 L857.18,72.50 L857.68,73.83 L858.18,75.12 L858.67,76.38 L859.17,77.60 L859.67,78.79 L860.17,79.93 L860.67,81.03 L861.17,82.09 L861.67,83.11 L862.17,84.09 L862.67,85.03 L863.17,85.92 L863.67,86.76 L864.16,87.56 L864.66,88.31 L865.16,89.01 L865.66,89.66 L866.16,90.26 L866.66,90.80 L867.16,91.28 L867.66,91.68 L868.16,92.01 L868.66,92.23 L869.16,92.28 L869.65,92.10 L870.15,91.81 L870.65,91.44 L871.15,90.99 L871.65,90.47 L872.15,89.90 L872.65,89.26 L873.15,88.58 L873.65,87.85 L874.15,87.07 L874.65,86.24 L875.14,85.37 L875.64,84.45 L876.14,83.49 L876.64,82.48 L877.14,81.44 L877.64,80.35 L878.14,79.22 L878.64,78.05 L879.14,76.85 L879.64,75.60 L880.14,74.32 L880.63,73.00 L881.13,71.65 L881.63,70.27 L882.13,68.87 L882.63,67.44 L883.13,65.98 L883.63,64.52 L884.13,63.03 L884.63,61.55 L885.13,60.05 L885.62,58.56 L886.12,57.08 L886.62,55.62 L887.12,54.17 L887.62,52.75 L888.12,51.36 L888.62,50.01 L889.12,48.70 L889.62,47.44 L890.12,46.23 L890.62,45.08 L891.11,43.99 L891.61,42.96 L892.11,42.00 L892.61,41.11 L893.11,40.29 L893.61,39.53 L894.11,38.85 L894.61,38.23 L895.11,37.67 L895.61,37.18 L896.11,36.75 L896.60,36.37 L897.10,36.04 L897.60,35.76 L898.10,35.52 L898.60,35.31 L899.10,35.15 L899.60,35.01 L900.10,34.90 L900.60,34.80 L901.10,34.73 L901.60,34.67 L902.09,34.63 L902.59,34.60 L903.09,34.57 L903.59,34.55 L904.09,34.53 L904.59,34.52 L905.09,34.52 L905.59,34.51 L906.09,34.51 L906.59,34.50 L907.09,34.50 L907.58,34.50 L908.08,34.50 L908.58,34.50 L909.08,34.50 L909.58,34.50 L910.08,34.50 L910.58,34.50 L911.08,34.50 L911.58,34.50 L912.08,34.50 L912.58,34.50 L913.07,34.50 L913.57,34.50 L914.07,34.50 L914.57,34.50 L915.07,34.50 L915.57,34.50 L916.07,34.50 L916.57,34.50 L917.07,34.50 L917.57,34.50 L918.06,34.50 L918.56,34.50 L919.06,34.50 L919.56,34.50 L920.06,34.50 L920.56,34.50 L921.06,34.50 L921.56,34.50 L922.06,34.50 L922.56,34.50 L923.06,34.50 L923.55,34.50 L924.05,34.50 L924.55,34.50 L925.05,34.50 L925.55,34.50 L926.05,34.50 L926.55,34.50 L927.05,34.50 L927.55,34.50 L928.05,34.50 L928.55,34.50 L929.04,34.50 L929.54,34.50 L930.04,34.50 L930.54,34.50 L931.04,34.50 L931.54,34.50 L932.04,34.50 L932.54,34.50 L933.04,34.50 L933.54,34.50 L934.04,34.50 L934.53,34.50 L935.03,34.50 L935.53,34.50 L936.03,34.50 L936.53,34.50 L937.03,34.50 L937.53,34.50 L938.03,34.50 L938.53,34.50 L939.03,34.50 L939.52,34.50 L940.02,34.50 L940.52,34.50 L941.02,34.50 L941.52,34.50 L942.02,34.50 L942.52,34.50 L943.02,34.50 L943.52,34.50 L944.02,34.50 L944.52,34.50 L945.01,34.50 L945.51,34.50 L946.01,34.50 L946.51,34.50 L947.01,34.50 L947.51,34.50 L948.01,34.50 L948.51,34.50 L949.01,34.50 L949.51,34.50 L950.01,34.50 L950.50,34.50 L951.00,34.50 L951.50,34.50 L952.00,34.50 L952.50,34.50 L953.00,34.50" fill="none" stroke="#3c3c3c" stroke-width="1.2"/><path d="M683.50,126.20 L684.00,126.20 L684.50,126.20 L685.00,126.20 L685.50,126.20 L686.00,126.20 L686.49,126.20 L686.99,126.20 L687.49,126.20 L687.99,126.20 L688.49,126.20 L688.99,126.20 L689.49,126.20 L689.99,126.20 L690.49,126.20 L690.99,126.20 L691.49,126.20 L691.98,126.20 L692.48,126.20 L692.98,126.20 L693.48,126.20 L693.98,126.20 L694.48,126.20 L694.98,126.20 L695.48,126.20 L695.98,126.20 L696.48,126.20 L696.98,126.20 L697.47,126.20 L697.97,126.20 L698.47,126.20 L698.97,126.20 L699.47,126.20 L699.97,126.20 L700.47,126.20 L700.97,126.20 L701.47,126.20 L701.97,126.20 L702.46,126.20 L702.96,126.20 L703.46,126.20 L703.96,126.20 L704.46,126.20 L704.96,126.20 L705.46,126.20 L705.96,126.20 L706.46,126.20 L706.96,126.20 L707.46,126.20 L707.95,126.20 L708.45,126.20 L708.95,126.20 L709.45,126.20 L709.95,126.20 L710.45,126.20 L710.95,126.20 L711.45,126.20 L711.95,126.20 L712.45,126.20 L712.95,126.20 L713.44,126.20 L713.94,126.20 L714.44,126.20 L714.94,126.20 L715.44,126.20 L715.94,126.20 L716.44,126.20 L716.94,126.20 L717.44,126.20 L717.94,126.20 L718.44,126.20 L718.93,126.20 L719.43,126.20 L719.93,126.20 L720.43,126.20 L720.93,126.20 L721.43,126.20 L721.93,126.20 L722.43,126.20 L722.93,126.20 L723.43,126.20 L723.92,126.20 L724.42,126.20 L724.92,126.20 L725.42,126.20 L725.92,126.20 L726.42,126.20 L726.92,126.20 L727.42,126.20 L727.92,126.20 L728.42,126.20 L728.92,126.20 L729.41,126.20 L729.91,126.20 L730.41,126.20 L730.91,126.20 L731.41,126.20 L731.91,126.20 L732.41,126.20 L732.91,126.20 L733.41,126.20 L733.91,126.20 L734.41,126.20 L734.90,126.20 L735.40,126.20 L735.90,126.20 L736.40,126.20 L736.90,126.20 L737.40,126.20 L737.90,126.20 L738.40,126.20 L738.90,126.20 L739.40,126.20 L739.90,126.20 L740.39,126.20 L740.89,126.20 L741.39,126.20 L741.89,126.20 L742.39,126.20 L742.89,126.20 L743.39,126.20 L743.89,126.20 L744.39,126.20 L744.89,126.20 L745.39,126.20 L745.88,126.20 L746.38,126.20 L746.88,126.20 L747.38,126.20 L747.88,126.20 L748.38,126.20 L748.88,126.20 L749.38,126.20 L749.88,126.20 L750.38,126.20 L750.88,126.20 L751.37,126.20 L751.87,126.20 L752.37,126.20 L752.87,126.20 L753.37,126.20 L753.87,126.20 L754.37,126.20 L754.87,126.20 L755.37,126.21 L755.87,126.21 L756.36,126.22 L756.86,126.22 L757.36,126.23 L757.86,126.25 L758.36,126.27 L758.86,126.29 L759.36,126.32 L759.86,126.37 L760.36,126.42 L760.86,126.49 L761.36,126.58 L761.85,126.68 L762.35,126.82 L762.85,126.98 L763.35,127.17 L763.85,127.40 L764.35,127.67 L764.85,127.99 L765.35,128.36 L765.85,128.77 L766.35,129.25 L766.85,129.79 L767.34,130.38 L767.84,131.05 L768.34,131.78 L768.84,132.57 L769.34,133.44 L769.84,134.37 L770.34,135.36 L770.84,136.42 L771.34,137.54 L771.84,138.71 L772.34,139.94 L772.83,141.21 L773.33,142.53 L773.83,143.88 L774.33,145.26 L774.83,146.67 L775.33,148.10 L775.83,149.55 L776.33,151.00 L776.83,152.46 L777.33,153.91 L777.83,155.35 L778.32,156.79 L778.82,158.21 L779.32,159.61 L779.82,160.98 L780.32,162.33 L780.82,163.65 L781.32,164.94 L781.82,166.19 L782.32,167.41 L782.82,168.59 L783.31,169.73 L783.81,170.84 L784.31,171.90 L784.81,172.93 L785.31,173.91 L785.81,174.85 L786.31,175.75 L786.81,176.61 L787.31,177.42 L787.81,178.19 L788.31,178.91 L788.80,179.58 L789.30,180.20 L789.80,180.77 L790.30,181.27 L790.80,181.72 L791.30,182.09 L791.80,182.39 L792.30,182.57 L792.80,182.55 L793.30,182.34 L793.80,182.03 L794.29,181.64 L794.79,181.18 L795.29,180.66 L795.79,180.08 L796.29,179.45 L796.79,178.77 L797.29,178.04 L797.79,177.27 L798.29,176.45 L798.79,175.58 L799.29,174.68 L799.78,173.73 L800.28,172.74 L800.78,171.70 L801.28,170.63 L801.78,169.52 L802.28,168.37 L802.78,167.18 L803.28,165.95 L803.78,164.69 L804.28,163.40 L804.77,162.07 L805.27,160.72 L805.77,159.34 L806.27,157.94 L806.77,156.52 L807.27,155.08 L807.77,153.63 L808.27,152.18 L808.77,150.72 L809.27,149.27 L809.77,147.83 L810.26,146.40 L810.76,145.00 L811.26,143.62 L811.76,142.27 L812.26,140.96 L812.76,139.70 L813.26,138.48 L813.76,137.32 L814.26,136.22 L814.76,135.18 L815.26,134.21 L815.75,133.33 L816.25,132.55 L816.75,131.91 L817.25,131.48 L817.75,131.32 L818.25,131.48 L818.75,131.91 L819.25,132.55 L819.75,133.33 L820.25,134.21 L820.75,135.18 L821.24,136.22 L821.74,137.33 L822.24,138.49 L822.74,139.70 L823.24,140.97 L823.74,142.28 L824.24,143.62 L824.74,145.00 L825.24,146.41 L825.74,147.83 L826.24,149.28 L826.73,150.73 L827.23,152.18 L827.73,153.64 L828.23,155.08 L828.73,156.52 L829.23,157.94 L829.73,159.35 L830.23,160.73 L830.73,162.08 L831.23,163.40 L831.73,164.70 L832.22,165.96 L832.72,167.18 L833.22,168.37 L833.72,169.52 L834.22,170.64 L834.72,171.71 L835.22,172.74 L835.72,173.73 L836.22,174.68 L836.72,175.59 L837.21,176.45 L837.71,177.27 L838.21,178.05 L838.71,178.78 L839.21,179.46 L839.71,180.09 L840.21,180.66 L840.71,181.18 L841.21,181.64 L841.71,182.03 L842.21,182.34 L842.70,182.55 L843.20,182.57 L843.70,182.38 L844.20,182.09 L844.70,181.72 L845.20,181.27 L845.70,180.76 L846.20,180.20 L846.70,179.58 L847.20,178.90 L847.70,178.18 L848.19,177.42 L848.69,176.61 L849.19,175.75 L849.69,174.85 L850.19,173.91 L850.69,172.92 L851.19,171.90 L851.69,170.84 L852.19,169.73 L852.69,168.59 L853.19,167.40 L853.68,166.19 L854.18,164.93 L854.68,163.64 L855.18,162.33 L855.68,160.98 L856.18,159.60 L856.68,158.20 L857.18,156.78 L857.68,155.35 L858.18,153.90 L858.67,152.45 L859.17,150.99 L859.67,149.54 L860.17,148.10 L860.67,146.67 L861.17,145.26 L861.67,143.87 L862.17,142.52 L862.67,141.20 L863.17,139.93 L863.67,138.71 L864.16,137.53 L864.66,136.42 L865.16,135.36 L865.66,134.36 L866.16,133.43 L866.66,132.57 L867.16,131.77 L867.66,131.04 L868.16,130.38 L868.66,129.78 L869.16,129.25 L869.65,128.77 L870.15,128.35 L870.65,127.99 L871.15,127.67 L871.65,127.40 L872.15,127.17 L872.65,126.98 L873.15,126.82 L873.65,126.68 L874.15,126.58 L874.65,126.49 L875.14,126.42 L875.64,126.37 L876.14,126.32 L876.64,126.29 L877.14,126.27 L877.64,126.25 L878.14,126.23 L878.64,126.22 L879.14,126.22 L879.64,126.21 L880.14,126.21 L880.63,126.20 L881.13,126.20 L881.63,126.20 L882.13,126.20 L882.63,126.20 L883.13,126.20 L883.63,126.20 L884.13,126.20 L884.63,126.20 L885.13,126.20 L885.62,126.20 L886.12,126.20 L886.62,126.20 L887.12,126.20 L887.62,126.20 L888.12,126.20 L888.62,126.20 L889.12,126.20 L889.62,126.20 L890.12,126.20 L890.62,126.20 L891.11,126.20 L891.61,126.20 L892.11,126.20 L892.61,126.20 L893.11,126.20 L893.61,126.20 L894.11,126.20 L894.61,126.20 L895.11,126.20 L895.61,126.20 L896.11,126.20 L896.60,126.20 L897.10,126.20 L897.60,126.20 L898.10,126.20 L898.60,126.20 L899.10,126.20 L899.60,126.20 L900.10,126.20 L900.60,126.20 L901.10,126.20 L901.60,126.20 L902.09,126.20 L902.59,126.20 L903.09,126.20 L903.59,126.20 L904.09,126.20 L904.59,126.20 L905.09,126.20 L905.59,126.20 L906.09,126.20 L906.59,126.20 L907.09,126.20 L907.58,126.20 L908.08,126.20 L908.58,126.20 L909.08,126.20 L909.58,126.20 L910.08,126.20 L910.58,126.20 L911.08,126.20 L911.58,126.20 L912.08,126.20 L912.58,126.20 L913.07,126.20 L913.57,126.20 L914.07,126.20 L914.57,126.20 L915.07,126.20 L915.57,126.20 L916.07,126.20 L916.57,126.20 L917.07,126.20 L917.57,126.20 L918.06,126.20 L918.56,126.20 L919.06,126.20 L919.56,126.20 L920.06,126.20 L920.56,126.20 L921.06,126.20 L921.56,126.20 L922.06,126.20 L922.56,126.20 L923.06,126.20 L923.55,126.20 L924.05,126.20 L924.55,126.20 L925.05,126.20 L925.55,126.20 L926.05,126.20 L926.55,126.20 L927.05,126.20 L927.55,126.20 L928.05,126.20 L928.55,126.20 L929.04,126.20 L929.54,126.20 L930.04,126.20 L930.54,126.20 L931.04,126.20 L931.54,126.20 L932.04,126.20 L932.54,126.20 L933.04,126.20 L933.54,126.20 L934.04,126.20 L934.53,126.20 L935.03,126.20 L935.53,126.20 L936.03,126.20 L936.53,126.20 L937.03,126.20 L937.53,126.20 L938.03,126.20 L938.53,126.20 L939.03,126.20 L939.52,126.20 L940.02,126.20 L940.52,126.20 L941.02,126.20 L941.52,126.20 L942.02,126.20 L942.52,126.20 L943.02,126.20 L943.52,126.20 L944.02,126.20 L944.52,126.20 L945.01,126.20 L945.51,126.20 L946.01,126.20 L946.51,126.20 L947.01,126.20 L947.51,126.20 L948.01,126.20 L948.51,126.20 L949.01,126.20 L949.51,126.20 L950.01,126.20 L950.50,126.20 L951.00,126.20 L951.50,126.20 L952.00,126.20 L952.50,126.20 L953.00,126.20" fill="none" stroke="#5a8ac0" stroke-width="1.3"/><path d="M683.50,215.20 L684.00,215.20 L684.50,215.20 L685.00,215.20 L685.50,215.20 L686.00,215.20 L686.49,215.20 L686.99,215.20 L687.49,215.20 L687.99,215.20 L688.49,215.20 L688.99,215.20 L689.49,215.20 L689.99,215.20 L690.49,215.20 L690.99,215.20 L691.49,215.20 L691.98,215.20 L692.48,215.20 L692.98,215.20 L693.48,215.20 L693.98,215.20 L694.48,215.20 L694.98,215.20 L695.48,215.20 L695.98,215.20 L696.48,215.20 L696.98,215.20 L697.47,215.20 L697.97,215.20 L698.47,215.20 L698.97,215.20 L699.47,215.20 L699.97,215.20 L700.47,215.20 L700.97,215.20 L701.47,215.20 L701.97,215.20 L702.46,215.20 L702.96,215.20 L703.46,215.20 L703.96,215.20 L704.46,215.20 L704.96,215.20 L705.46,215.20 L705.96,215.20 L706.46,215.20 L706.96,215.20 L707.46,215.20 L707.95,215.20 L708.45,215.20 L708.95,215.20 L709.45,215.20 L709.95,215.20 L710.45,215.20 L710.95,215.20 L711.45,215.20 L711.95,215.20 L712.45,215.20 L712.95,215.20 L713.44,215.20 L713.94,215.20 L714.44,215.20 L714.94,215.20 L715.44,215.20 L715.94,215.20 L716.44,215.20 L716.94,215.20 L717.44,215.20 L717.94,215.20 L718.44,215.20 L718.93,215.20 L719.43,215.20 L719.93,215.20 L720.43,215.20 L720.93,215.20 L721.43,215.20 L721.93,215.20 L722.43,215.20 L722.93,215.20 L723.43,215.20 L723.92,215.20 L724.42,215.20 L724.92,215.20 L725.42,215.20 L725.92,215.20 L726.42,215.20 L726.92,215.20 L727.42,215.20 L727.92,215.20 L728.42,215.20 L728.92,215.20 L729.41,215.20 L729.91,215.20 L730.41,215.20 L730.91,215.20 L731.41,215.20 L731.91,215.20 L732.41,215.20 L732.91,215.20 L733.41,215.20 L733.91,215.20 L734.41,215.20 L734.90,215.20 L735.40,215.20 L735.90,215.20 L736.40,215.20 L736.90,215.20 L737.40,215.20 L737.90,215.20 L738.40,215.20 L738.90,215.20 L739.40,215.20 L739.90,215.20 L740.39,215.20 L740.89,215.20 L741.39,215.20 L741.89,215.20 L742.39,215.20 L742.89,215.20 L743.39,215.20 L743.89,215.20 L744.39,215.20 L744.89,215.20 L745.39,215.20 L745.88,215.20 L746.38,215.20 L746.88,215.20 L747.38,215.20 L747.88,215.20 L748.38,215.20 L748.88,215.20 L749.38,215.20 L749.88,215.20 L750.38,215.20 L750.88,215.20 L751.37,215.20 L751.87,215.20 L752.37,215.20 L752.87,215.20 L753.37,215.20 L753.87,215.20 L754.37,215.20 L754.87,215.20 L755.37,215.20 L755.87,215.20 L756.36,215.20 L756.86,215.20 L757.36,215.20 L757.86,215.20 L758.36,215.20 L758.86,215.20 L759.36,215.20 L759.86,215.20 L760.36,215.21 L760.86,215.21 L761.36,215.21 L761.85,215.22 L762.35,215.23 L762.85,215.24 L763.35,215.26 L763.85,215.28 L764.35,215.31 L764.85,215.35 L765.35,215.40 L765.85,215.46 L766.35,215.54 L766.85,215.64 L767.34,215.77 L767.84,215.92 L768.34,216.10 L768.84,216.32 L769.34,216.58 L769.84,216.88 L770.34,217.23 L770.84,217.63 L771.34,218.09 L771.84,218.61 L772.34,219.19 L772.83,219.84 L773.33,220.56 L773.83,221.34 L774.33,222.19 L774.83,223.11 L775.33,224.09 L775.83,225.14 L776.33,226.25 L776.83,227.42 L777.33,228.65 L777.83,229.93 L778.32,231.25 L778.82,232.61 L779.32,234.01 L779.82,235.43 L780.32,236.88 L780.82,238.34 L781.32,239.82 L781.82,241.30 L782.32,242.78 L782.82,244.26 L783.31,245.72 L783.81,247.17 L784.31,248.60 L784.81,250.01 L785.31,251.40 L785.81,252.75 L786.31,254.08 L786.81,255.37 L787.31,256.62 L787.81,257.84 L788.31,259.02 L788.80,260.16 L789.30,261.27 L789.80,262.32 L790.30,263.34 L790.80,264.32 L791.30,265.25 L791.80,266.14 L792.30,266.99 L792.80,267.79 L793.30,268.54 L793.80,269.24 L794.29,269.90 L794.79,270.50 L795.29,271.04 L795.79,271.52 L796.29,271.94 L796.79,272.27 L797.29,272.51 L797.79,272.59 L798.29,272.44 L798.79,272.16 L799.29,271.80 L799.78,271.36 L800.28,270.86 L800.78,270.29 L801.28,269.67 L801.78,269.00 L802.28,268.28 L802.78,267.51 L803.28,266.69 L803.78,265.83 L804.28,264.93 L804.77,263.98 L805.27,262.99 L805.77,261.96 L806.27,260.88 L806.77,259.77 L807.27,258.61 L807.77,257.42 L808.27,256.19 L808.77,254.92 L809.27,253.62 L809.77,252.28 L810.26,250.91 L810.76,249.52 L811.26,248.10 L811.76,246.67 L812.26,245.21 L812.76,243.75 L813.26,242.28 L813.76,240.81 L814.26,239.36 L814.76,237.94 L815.26,236.55 L815.75,235.24 L816.25,234.03 L816.75,232.97 L817.25,232.12 L817.75,231.54 L818.25,231.29 L818.75,231.40 L819.25,231.85 L819.75,232.60 L820.25,233.59 L820.75,234.74 L821.24,236.02 L821.74,237.38 L822.24,238.79 L822.74,240.23 L823.24,241.69 L823.74,243.16 L824.24,244.63 L824.74,246.09 L825.24,247.53 L825.74,248.96 L826.24,250.36 L826.73,251.74 L827.23,253.08 L827.73,254.40 L828.23,255.68 L828.73,256.93 L829.23,258.14 L829.73,259.31 L830.23,260.44 L830.73,261.53 L831.23,262.58 L831.73,263.59 L832.22,264.55 L832.72,265.48 L833.22,266.35 L833.72,267.19 L834.22,267.98 L834.72,268.72 L835.22,269.41 L835.72,270.05 L836.22,270.64 L836.72,271.17 L837.21,271.63 L837.71,272.03 L838.21,272.34 L838.71,272.55 L839.21,272.57 L839.71,272.38 L840.21,272.08 L840.71,271.70 L841.21,271.24 L841.71,270.72 L842.21,270.15 L842.70,269.51 L843.20,268.83 L843.70,268.09 L844.20,267.31 L844.70,266.49 L845.20,265.61 L845.70,264.70 L846.20,263.74 L846.70,262.74 L847.20,261.69 L847.70,260.61 L848.19,259.49 L848.69,258.32 L849.19,257.12 L849.69,255.88 L850.19,254.60 L850.69,253.29 L851.19,251.95 L851.69,250.57 L852.19,249.17 L852.69,247.75 L853.19,246.30 L853.68,244.84 L854.18,243.37 L854.68,241.89 L855.18,240.41 L855.68,238.93 L856.18,237.46 L856.68,236.01 L857.18,234.57 L857.68,233.17 L858.18,231.79 L858.67,230.45 L859.17,229.16 L859.67,227.91 L860.17,226.72 L860.67,225.58 L861.17,224.50 L861.67,223.49 L862.17,222.55 L862.67,221.67 L863.17,220.86 L863.67,220.12 L864.16,219.45 L864.66,218.84 L865.16,218.29 L865.66,217.81 L866.16,217.39 L866.66,217.01 L867.16,216.69 L867.66,216.42 L868.16,216.19 L868.66,215.99 L869.16,215.83 L869.65,215.69 L870.15,215.58 L870.65,215.49 L871.15,215.42 L871.65,215.37 L872.15,215.32 L872.65,215.29 L873.15,215.27 L873.65,215.25 L874.15,215.23 L874.65,215.22 L875.14,215.22 L875.64,215.21 L876.14,215.21 L876.64,215.20 L877.14,215.20 L877.64,215.20 L878.14,215.20 L878.64,215.20 L879.14,215.20 L879.64,215.20 L880.14,215.20 L880.63,215.20 L881.13,215.20 L881.63,215.20 L882.13,215.20 L882.63,215.20 L883.13,215.20 L883.63,215.20 L884.13,215.20 L884.63,215.20 L885.13,215.20 L885.62,215.20 L886.12,215.20 L886.62,215.20 L887.12,215.20 L887.62,215.20 L888.12,215.20 L888.62,215.20 L889.12,215.20 L889.62,215.20 L890.12,215.20 L890.62,215.20 L891.11,215.20 L891.61,215.20 L892.11,215.20 L892.61,215.20 L893.11,215.20 L893.61,215.20 L894.11,215.20 L894.61,215.20 L895.11,215.20 L895.61,215.20 L896.11,215.20 L896.60,215.20 L897.10,215.20 L897.60,215.20 L898.10,215.20 L898.60,215.20 L899.10,215.20 L899.60,215.20 L900.10,215.20 L900.60,215.20 L901.10,215.20 L901.60,215.20 L902.09,215.20 L902.59,215.20 L903.09,215.20 L903.59,215.20 L904.09,215.20 L904.59,215.20 L905.09,215.20 L905.59,215.20 L906.09,215.20 L906.59,215.20 L907.09,215.20 L907.58,215.20 L908.08,215.20 L908.58,215.20 L909.08,215.20 L909.58,215.20 L910.08,215.20 L910.58,215.20 L911.08,215.20 L911.58,215.20 L912.08,215.20 L912.58,215.20 L913.07,215.20 L913.57,215.20 L914.07,215.20 L914.57,215.20 L915.07,215.20 L915.57,215.20 L916.07,215.20 L916.57,215.20 L917.07,215.20 L917.57,215.20 L918.06,215.20 L918.56,215.20 L919.06,215.20 L919.56,215.20 L920.06,215.20 L920.56,215.20 L921.06,215.20 L921.56,215.20 L922.06,215.20 L922.56,215.20 L923.06,215.20 L923.55,215.20 L924.05,215.20 L924.55,215.20 L925.05,215.20 L925.55,215.20 L926.05,215.20 L926.55,215.20 L927.05,215.20 L927.55,215.20 L928.05,215.20 L928.55,215.20 L929.04,215.20 L929.54,215.20 L930.04,215.20 L930.54,215.20 L931.04,215.20 L931.54,215.20 L932.04,215.20 L932.54,215.20 L933.04,215.20 L933.54,215.20 L934.04,215.20 L934.53,215.20 L935.03,215.20 L935.53,215.20 L936.03,215.20 L936.53,215.20 L937.03,215.20 L937.53,215.20 L938.03,215.20 L938.53,215.20 L939.03,215.20 L939.52,215.20 L940.02,215.20 L940.52,215.20 L941.02,215.20 L941.52,215.20 L942.02,215.20 L942.52,215.20 L943.02,215.20 L943.52,215.20 L944.02,215.20 L944.52,215.20 L945.01,215.20 L945.51,215.20 L946.01,215.20 L946.51,215.20 L947.01,215.20 L947.51,215.20 L948.01,215.20 L948.51,215.20 L949.01,215.20 L949.51,215.20 L950.01,215.20 L950.50,215.20 L951.00,215.20 L951.50,215.20 L952.00,215.20 L952.50,215.20 L953.00,215.20" fill="none" stroke="#e07e6a" stroke-width="1.2"/><line x1="818.5" y1="14" x2="818.5" y2="290" stroke="#444" stroke-width="1" stroke-dasharray="2.5,2"/><line x1="767" y1="94.6" x2="869" y2="94.6" stroke="#333" stroke-width="1.1"/><path d="M774,91.6 L767,94.6 L774,97.6" fill="none" stroke="#333" stroke-width="1.1"/><path d="M862,91.6 L869,94.6 L862,97.6" fill="none" stroke="#333" stroke-width="1.1"/><line x1="798.5" y1="183.5" x2="837.5" y2="183.5" stroke="#333" stroke-width="1.1"/><path d="M804.5,180.5 L798.5,183.5 L804.5,186.5" fill="none" stroke="#333" stroke-width="1.1"/><path d="M831.5,180.5 L837.5,183.5 L831.5,186.5" fill="none" stroke="#333" stroke-width="1.1"/><line x1="802.5" y1="271.8" x2="834" y2="271.8" stroke="#333" stroke-width="1.1"/><path d="M808.5,268.8 L802.5,271.8 L808.5,274.8" fill="none" stroke="#333" stroke-width="1.1"/><path d="M828,268.8 L834,271.8 L828,274.8" fill="none" stroke="#333" stroke-width="1.1"/><text x="810" y="105.5" font-size="16" font-style="italic" fill="#111">d</text><text x="820.5" y="106.5" font-size="12.5" fill="#111">o</text><text x="799.4" y="199.5" font-size="13.5" fill="#111">0.5</text><text x="818.5" y="200" font-size="19" fill="#111">×</text><text x="834.5" y="199" font-size="16" font-style="italic" fill="#111">d</text><text x="845.0" y="200" font-size="12.5" fill="#111">o</text><text x="797" y="284" font-size="13.5" fill="#111">0.4</text><text x="816" y="284.5" font-size="19" fill="#111">×</text><text x="832.5" y="283.5" font-size="16" font-style="italic" fill="#111">d</text><text x="843.0" y="284.5" font-size="12.5" fill="#111">o</text></g><g id="pe"><text x="636" y="314.8" font-size="19.5" fill="#111">(e)</text><rect x="692.0" y="327.5" width="274.0" height="221.10000000000002" fill="none" stroke="#222" stroke-width="1.6"/><line x1="687.0" y1="548.6" x2="692.0" y2="548.6" stroke="#222" stroke-width="1.3"/><line x1="689.0" y1="520.8" x2="692.0" y2="520.8" stroke="#222" stroke-width="1.3"/><line x1="687.0" y1="493.1" x2="692.0" y2="493.1" stroke="#222" stroke-width="1.3"/><line x1="689.0" y1="465.3" x2="692.0" y2="465.3" stroke="#222" stroke-width="1.3"/><line x1="687.0" y1="437.5" x2="692.0" y2="437.5" stroke="#222" stroke-width="1.3"/><line x1="689.0" y1="409.7" x2="692.0" y2="409.7" stroke="#222" stroke-width="1.3"/><line x1="687.0" y1="382.0" x2="692.0" y2="382.0" stroke="#222" stroke-width="1.3"/><line x1="689.0" y1="354.2" x2="692.0" y2="354.2" stroke="#222" stroke-width="1.3"/><line x1="687.0" y1="326.4" x2="692.0" y2="326.4" stroke="#222" stroke-width="1.3"/><line x1="692.0" y1="548.6" x2="692.0" y2="544.6" stroke="#222" stroke-width="1.3"/><line x1="722.4" y1="548.6" x2="722.4" y2="546.1" stroke="#222" stroke-width="1.3"/><line x1="752.7" y1="548.6" x2="752.7" y2="544.6" stroke="#222" stroke-width="1.3"/><line x1="783.1" y1="548.6" x2="783.1" y2="546.1" stroke="#222" stroke-width="1.3"/><line x1="813.5" y1="548.6" x2="813.5" y2="544.6" stroke="#222" stroke-width="1.3"/><line x1="843.8" y1="548.6" x2="843.8" y2="546.1" stroke="#222" stroke-width="1.3"/><line x1="874.2" y1="548.6" x2="874.2" y2="544.6" stroke="#222" stroke-width="1.3"/><line x1="904.5" y1="548.6" x2="904.5" y2="546.1" stroke="#222" stroke-width="1.3"/><line x1="934.9" y1="548.6" x2="934.9" y2="544.6" stroke="#222" stroke-width="1.3"/><line x1="965.3" y1="548.6" x2="965.3" y2="546.1" stroke="#222" stroke-width="1.3"/><text x="684.5" y="554.6" font-size="17" text-anchor="end" fill="#111">0</text><text x="684.5" y="499.1" font-size="17" text-anchor="end" fill="#111">10</text><text x="684.5" y="443.5" font-size="17" text-anchor="end" fill="#111">20</text><text x="684.5" y="388.0" font-size="17" text-anchor="end" fill="#111">30</text><text x="684.5" y="332.4" font-size="17" text-anchor="end" fill="#111">40</text><text x="692.0" y="568.5" font-size="17" text-anchor="middle" fill="#111">0</text><text x="752.7" y="568.5" font-size="17" text-anchor="middle" fill="#111">50</text><text x="813.5" y="568.5" font-size="17" text-anchor="middle" fill="#111">100</text><text x="874.2" y="568.5" font-size="17" text-anchor="middle" fill="#111">150</text><text x="934.9" y="568.5" font-size="17" text-anchor="middle" fill="#111">200</text><text x="762.5" y="590.5" font-size="19" textLength="135" fill="#111">Temperature (K)</text><text transform="translate(655.5,549) rotate(-90)" x="0" y="0" font-size="19" textLength="224" fill="#111">Superconducting gap (meV)</text><circle cx="704.1" cy="353.1" r="2.6" fill="#e8198c" fill-opacity="0.8"/><circle cx="705.8" cy="353.1" r="2.6" fill="#e8198c" fill-opacity="0.8"/><circle cx="707.4" cy="353.1" r="2.6" fill="#e8198c" fill-opacity="0.8"/><circle cx="709.1" cy="353.1" r="2.6" fill="#e8198c" fill-opacity="0.8"/><circle cx="710.7" cy="353.1" r="2.6" fill="#e8198c" fill-opacity="0.8"/><circle cx="712.3" cy="353.1" r="2.6" fill="#e8198c" fill-opacity="0.8"/><circle cx="714.0" cy="353.1" r="2.6" fill="#e8198c" fill-opacity="0.8"/><circle cx="715.6" cy="353.1" r="2.6" fill="#e8198c" fill-opacity="0.8"/><circle cx="717.3" cy="353.1" r="2.6" fill="#e8198c" fill-opacity="0.8"/><circle cx="718.9" cy="353.1" r="2.6" fill="#e8198c" fill-opacity="0.8"/><circle cx="720.5" cy="353.1" r="2.6" fill="#e8198c" fill-opacity="0.8"/><circle cx="722.2" cy="353.1" r="2.6" fill="#e8198c" fill-opacity="0.8"/><circle cx="723.8" cy="353.1" r="2.6" fill="#e8198c" fill-opacity="0.8"/><circle cx="725.5" cy="353.2" r="2.6" fill="#e8198c" fill-opacity="0.8"/><circle cx="727.1" cy="353.2" r="2.6" fill="#e8198c" fill-opacity="0.8"/><circle cx="728.7" cy="353.2" r="2.6" fill="#e8198c" fill-opacity="0.8"/><circle cx="730.4" cy="353.2" r="2.6" fill="#e8198c" fill-opacity="0.8"/><circle cx="732.0" cy="353.2" r="2.6" fill="#e8198c" fill-opacity="0.8"/><circle cx="733.7" cy="353.3" r="2.6" fill="#e8198c" fill-opacity="0.8"/><circle cx="735.3" cy="353.3" r="2.6" fill="#e8198c" fill-opacity="0.8"/><circle cx="736.9" cy="353.3" r="2.6" fill="#e8198c" fill-opacity="0.8"/><circle cx="738.6" cy="353.4" r="2.6" fill="#e8198c" fill-opacity="0.8"/><circle cx="740.2" cy="353.4" r="2.6" fill="#e8198c" fill-opacity="0.8"/><circle cx="741.9" cy="353.4" r="2.6" fill="#e8198c" fill-opacity="0.8"/><circle cx="743.5" cy="353.5" r="2.6" fill="#e8198c" fill-opacity="0.8"/><circle cx="745.1" cy="353.5" r="2.6" fill="#e8198c" fill-opacity="0.8"/><circle cx="746.8" cy="353.6" r="2.6" fill="#e8198c" fill-opacity="0.8"/><circle cx="748.4" cy="353.7" r="2.6" fill="#e8198c" fill-opacity="0.8"/><circle cx="750.1" cy="353.7" r="2.6" fill="#e8198c" fill-opacity="0.8"/><circle cx="751.7" cy="353.8" r="2.6" fill="#e8198c" fill-opacity="0.8"/><circle cx="753.3" cy="353.9" r="2.6" fill="#e8198c" fill-opacity="0.8"/><circle cx="755.0" cy="354.0" r="2.6" fill="#e8198c" fill-opacity="0.8"/><circle cx="756.6" cy="354.1" r="2.6" fill="#e8198c" fill-opacity="0.8"/><circle cx="758.3" cy="354.2" r="2.6" fill="#e8198c" fill-opacity="0.8"/><circle cx="759.9" cy="354.3" r="2.6" fill="#e8198c" fill-opacity="0.8"/><circle cx="761.5" cy="354.4" r="2.6" fill="#e8198c" fill-opacity="0.8"/><circle cx="763.2" cy="354.5" r="2.6" fill="#e8198c" fill-opacity="0.8"/><circle cx="764.8" cy="354.6" r="2.6" fill="#e8198c" fill-opacity="0.8"/><circle cx="766.4" cy="354.8" r="2.6" fill="#e8198c" fill-opacity="0.8"/><circle cx="768.1" cy="354.9" r="2.6" fill="#e8198c" fill-opacity="0.8"/><circle cx="769.7" cy="355.1" r="2.6" fill="#e8198c" fill-opacity="0.8"/><circle cx="771.4" cy="355.2" r="2.6" fill="#e8198c" fill-opacity="0.8"/><circle cx="773.0" cy="355.4" r="2.6" fill="#e8198c" fill-opacity="0.8"/><circle cx="774.6" cy="355.6" r="2.6" fill="#e8198c" fill-opacity="0.8"/><circle cx="776.3" cy="355.8" r="2.6" fill="#e8198c" fill-opacity="0.8"/><circle cx="777.9" cy="356.0" r="2.6" fill="#e8198c" fill-opacity="0.8"/><circle cx="779.6" cy="356.2" r="2.6" fill="#e8198c" fill-opacity="0.8"/><circle cx="781.2" cy="356.5" r="2.6" fill="#e8198c" fill-opacity="0.8"/><circle cx="782.8" cy="356.7" r="2.6" fill="#e8198c" fill-opacity="0.8"/><circle cx="784.5" cy="356.9" r="2.6" fill="#e8198c" fill-opacity="0.8"/><circle cx="786.1" cy="357.2" r="2.6" fill="#e8198c" fill-opacity="0.8"/><circle cx="787.7" cy="357.5" r="2.6" fill="#e8198c" fill-opacity="0.8"/><circle cx="789.3" cy="357.8" r="2.6" fill="#e8198c" fill-opacity="0.8"/><circle cx="790.9" cy="358.1" r="2.6" fill="#e8198c" fill-opacity="0.8"/><circle cx="792.4" cy="358.4" r="2.6" fill="#e8198c" fill-opacity="0.8"/><circle cx="794.0" cy="358.7" r="2.6" fill="#e8198c" fill-opacity="0.8"/><circle cx="795.6" cy="359.0" r="2.6" fill="#e8198c" fill-opacity="0.8"/><circle cx="797.2" cy="359.4" r="2.6" fill="#e8198c" fill-opacity="0.8"/><circle cx="798.8" cy="359.7" r="2.6" fill="#e8198c" fill-opacity="0.8"/><circle cx="800.3" cy="360.1" r="2.6" fill="#e8198c" fill-opacity="0.8"/><circle cx="801.9" cy="360.5" r="2.6" fill="#e8198c" fill-opacity="0.8"/><circle cx="803.5" cy="360.9" r="2.6" fill="#e8198c" fill-opacity="0.8"/><circle cx="805.1" cy="361.4" r="2.6" fill="#e8198c" fill-opacity="0.8"/><circle cx="806.6" cy="361.8" r="2.6" fill="#e8198c" fill-opacity="0.8"/><circle cx="808.2" cy="362.3" r="2.6" fill="#e8198c" fill-opacity="0.8"/><circle cx="809.8" cy="362.8" r="2.6" fill="#e8198c" fill-opacity="0.8"/><circle cx="811.4" cy="363.3" r="2.6" fill="#e8198c" fill-opacity="0.8"/><circle cx="812.9" cy="363.8" r="2.6" fill="#e8198c" fill-opacity="0.8"/><circle cx="814.4" cy="364.3" r="2.6" fill="#e8198c" fill-opacity="0.8"/><circle cx="815.9" cy="364.9" r="2.6" fill="#e8198c" fill-opacity="0.8"/><circle cx="817.5" cy="365.4" r="2.6" fill="#e8198c" fill-opacity="0.8"/><circle cx="819.0" cy="366.0" r="2.6" fill="#e8198c" fill-opacity="0.8"/><circle cx="820.5" cy="366.6" r="2.6" fill="#e8198c" fill-opacity="0.8"/><circle cx="822.0" cy="367.3" r="2.6" fill="#e8198c" fill-opacity="0.8"/><circle cx="823.5" cy="367.9" r="2.6" fill="#e8198c" fill-opacity="0.8"/><circle cx="825.0" cy="368.6" r="2.6" fill="#e8198c" fill-opacity="0.8"/><circle cx="826.5" cy="369.2" r="2.6" fill="#e8198c" fill-opacity="0.8"/><circle cx="828.0" cy="369.9" r="2.6" fill="#e8198c" fill-opacity="0.8"/><circle cx="829.4" cy="370.6" r="2.6" fill="#e8198c" fill-opacity="0.8"/><circle cx="830.9" cy="371.4" r="2.6" fill="#e8198c" fill-opacity="0.8"/><circle cx="832.3" cy="372.1" r="2.6" fill="#e8198c" fill-opacity="0.8"/><circle cx="833.8" cy="372.9" r="2.6" fill="#e8198c" fill-opacity="0.8"/><circle cx="835.3" cy="373.7" r="2.6" fill="#e8198c" fill-opacity="0.8"/><circle cx="836.6" cy="374.5" r="2.6" fill="#e8198c" fill-opacity="0.8"/><circle cx="838.0" cy="375.4" r="2.6" fill="#e8198c" fill-opacity="0.8"/><circle cx="839.4" cy="376.2" r="2.6" fill="#e8198c" fill-opacity="0.8"/><circle cx="840.8" cy="377.1" r="2.6" fill="#e8198c" fill-opacity="0.8"/><circle cx="842.2" cy="378.0" r="2.6" fill="#e8198c" fill-opacity="0.8"/><circle cx="843.6" cy="378.9" r="2.6" fill="#e8198c" fill-opacity="0.8"/><circle cx="844.9" cy="379.8" r="2.6" fill="#e8198c" fill-opacity="0.8"/><circle cx="846.2" cy="380.7" r="2.6" fill="#e8198c" fill-opacity="0.8"/><circle cx="847.6" cy="381.7" r="2.6" fill="#e8198c" fill-opacity="0.8"/><circle cx="848.9" cy="382.7" r="2.6" fill="#e8198c" fill-opacity="0.8"/><circle cx="850.2" cy="383.7" r="2.6" fill="#e8198c" fill-opacity="0.8"/><circle cx="851.5" cy="384.7" r="2.6" fill="#e8198c" fill-opacity="0.8"/><circle cx="852.7" cy="385.7" r="2.6" fill="#e8198c" fill-opacity="0.8"/><circle cx="854.0" cy="386.8" r="2.6" fill="#e8198c" fill-opacity="0.8"/><circle cx="855.3" cy="387.9" r="2.6" fill="#e8198c" fill-opacity="0.8"/><circle cx="856.5" cy="388.9" r="2.6" fill="#e8198c" fill-opacity="0.8"/><circle cx="857.7" cy="390.0" r="2.6" fill="#e8198c" fill-opacity="0.8"/><circle cx="858.9" cy="391.1" r="2.6" fill="#e8198c" fill-opacity="0.8"/><circle cx="860.1" cy="392.3" r="2.6" fill="#e8198c" fill-opacity="0.8"/><circle cx="861.3" cy="393.4" r="2.6" fill="#e8198c" fill-opacity="0.8"/><circle cx="862.5" cy="394.5" r="2.6" fill="#e8198c" fill-opacity="0.8"/><circle cx="863.6" cy="395.7" r="2.6" fill="#e8198c" fill-opacity="0.8"/><circle cx="864.8" cy="396.9" r="2.6" fill="#e8198c" fill-opacity="0.8"/><circle cx="865.9" cy="398.2" r="2.6" fill="#e8198c" fill-opacity="0.8"/><circle cx="867.0" cy="399.4" r="2.6" fill="#e8198c" fill-opacity="0.8"/><circle cx="868.1" cy="400.6" r="2.6" fill="#e8198c" fill-opacity="0.8"/><circle cx="869.2" cy="401.8" r="2.6" fill="#e8198c" fill-opacity="0.8"/><circle cx="870.3" cy="403.1" r="2.6" fill="#e8198c" fill-opacity="0.8"/><circle cx="871.3" cy="404.4" r="2.6" fill="#e8198c" fill-opacity="0.8"/><circle cx="872.4" cy="405.6" r="2.6" fill="#e8198c" fill-opacity="0.8"/><circle cx="873.4" cy="406.9" r="2.6" fill="#e8198c" fill-opacity="0.8"/><circle cx="874.4" cy="408.3" r="2.6" fill="#e8198c" fill-opacity="0.8"/><circle cx="875.4" cy="409.6" r="2.6" fill="#e8198c" fill-opacity="0.8"/><circle cx="876.4" cy="410.9" r="2.6" fill="#e8198c" fill-opacity="0.8"/><circle cx="877.3" cy="412.2" r="2.6" fill="#e8198c" fill-opacity="0.8"/><circle cx="878.3" cy="413.6" r="2.6" fill="#e8198c" fill-opacity="0.8"/><circle cx="879.3" cy="415.0" r="2.6" fill="#e8198c" fill-opacity="0.8"/><circle cx="880.2" cy="416.3" r="2.6" fill="#e8198c" fill-opacity="0.8"/><circle cx="881.1" cy="417.7" r="2.6" fill="#e8198c" fill-opacity="0.8"/><circle cx="882.0" cy="419.1" r="2.6" fill="#e8198c" fill-opacity="0.8"/><circle cx="882.9" cy="420.5" r="2.6" fill="#e8198c" fill-opacity="0.8"/><circle cx="883.8" cy="421.9" r="2.6" fill="#e8198c" fill-opacity="0.8"/><circle cx="884.6" cy="423.3" r="2.6" fill="#e8198c" fill-opacity="0.8"/><circle cx="885.5" cy="424.7" r="2.6" fill="#e8198c" fill-opacity="0.8"/><circle cx="886.3" cy="426.1" r="2.6" fill="#e8198c" fill-opacity="0.8"/><circle cx="887.2" cy="427.6" r="2.6" fill="#e8198c" fill-opacity="0.8"/><circle cx="888.0" cy="429.0" r="2.6" fill="#e8198c" fill-opacity="0.8"/><circle cx="888.7" cy="430.5" r="2.6" fill="#e8198c" fill-opacity="0.8"/><circle cx="889.5" cy="431.9" r="2.6" fill="#e8198c" fill-opacity="0.8"/><circle cx="890.3" cy="433.4" r="2.6" fill="#e8198c" fill-opacity="0.8"/><circle cx="891.1" cy="435.0" r="2.6" fill="#e8198c" fill-opacity="0.8"/><circle cx="891.8" cy="436.4" r="2.6" fill="#e8198c" fill-opacity="0.8"/><circle cx="892.6" cy="437.9" r="2.6" fill="#e8198c" fill-opacity="0.8"/><circle cx="893.3" cy="439.4" r="2.6" fill="#e8198c" fill-opacity="0.8"/><circle cx="894.0" cy="440.9" r="2.6" fill="#e8198c" fill-opacity="0.8"/><circle cx="894.8" cy="442.5" r="2.6" fill="#e8198c" fill-opacity="0.8"/><circle cx="895.4" cy="443.9" r="2.6" fill="#e8198c" fill-opacity="0.8"/><circle cx="896.1" cy="445.4" r="2.6" fill="#e8198c" fill-opacity="0.8"/><circle cx="896.8" cy="447.0" r="2.6" fill="#e8198c" fill-opacity="0.8"/><circle cx="897.4" cy="448.5" r="2.6" fill="#e8198c" fill-opacity="0.8"/><circle cx="898.1" cy="450.1" r="2.6" fill="#e8198c" fill-opacity="0.8"/><circle cx="898.8" cy="451.8" r="2.6" fill="#e8198c" fill-opacity="0.8"/><circle cx="899.4" cy="453.3" r="2.6" fill="#e8198c" fill-opacity="0.8"/><circle cx="900.0" cy="454.8" r="2.6" fill="#e8198c" fill-opacity="0.8"/><circle cx="900.6" cy="456.4" r="2.6" fill="#e8198c" fill-opacity="0.8"/><circle cx="901.2" cy="458.0" r="2.6" fill="#e8198c" fill-opacity="0.8"/><circle cx="901.8" cy="459.6" r="2.6" fill="#e8198c" fill-opacity="0.8"/><circle cx="902.4" cy="461.2" r="2.6" fill="#e8198c" fill-opacity="0.8"/><circle cx="902.9" cy="462.7" r="2.6" fill="#e8198c" fill-opacity="0.8"/><circle cx="903.4" cy="464.3" r="2.6" fill="#e8198c" fill-opacity="0.8"/><circle cx="904.0" cy="465.9" r="2.6" fill="#e8198c" fill-opacity="0.8"/><circle cx="904.5" cy="467.6" r="2.6" fill="#e8198c" fill-opacity="0.8"/><circle cx="905.1" cy="469.3" r="2.6" fill="#e8198c" fill-opacity="0.8"/><circle cx="905.6" cy="470.8" r="2.6" fill="#e8198c" fill-opacity="0.8"/><circle cx="906.1" cy="472.4" r="2.6" fill="#e8198c" fill-opacity="0.8"/><circle cx="906.5" cy="474.0" r="2.6" fill="#e8198c" fill-opacity="0.8"/><circle cx="907.0" cy="475.6" r="2.6" fill="#e8198c" fill-opacity="0.8"/><circle cx="907.5" cy="477.3" r="2.6" fill="#e8198c" fill-opacity="0.8"/><circle cx="908.0" cy="479.1" r="2.6" fill="#e8198c" fill-opacity="0.8"/><circle cx="908.4" cy="480.6" r="2.6" fill="#e8198c" fill-opacity="0.8"/><circle cx="908.8" cy="482.2" r="2.6" fill="#e8198c" fill-opacity="0.8"/><circle cx="909.3" cy="483.8" r="2.6" fill="#e8198c" fill-opacity="0.8"/><circle cx="909.7" cy="485.5" r="2.6" fill="#e8198c" fill-opacity="0.8"/><circle cx="910.1" cy="487.2" r="2.6" fill="#e8198c" fill-opacity="0.8"/><circle cx="910.5" cy="489.0" r="2.6" fill="#e8198c" fill-opacity="0.8"/><circle cx="911.0" cy="490.8" r="2.6" fill="#e8198c" fill-opacity="0.8"/><circle cx="911.3" cy="492.4" r="2.6" fill="#e8198c" fill-opacity="0.8"/><circle cx="911.7" cy="494.1" r="2.6" fill="#e8198c" fill-opacity="0.8"/><circle cx="912.1" cy="495.8" r="2.6" fill="#e8198c" fill-opacity="0.8"/><circle cx="912.4" cy="497.5" r="2.6" fill="#e8198c" fill-opacity="0.8"/><circle cx="912.8" cy="499.3" r="2.6" fill="#e8198c" fill-opacity="0.8"/><circle cx="913.2" cy="501.2" r="2.6" fill="#e8198c" fill-opacity="0.8"/><circle cx="913.5" cy="502.8" r="2.6" fill="#e8198c" fill-opacity="0.8"/><circle cx="913.8" cy="504.4" r="2.6" fill="#e8198c" fill-opacity="0.8"/><circle cx="914.1" cy="506.2" r="2.6" fill="#e8198c" fill-opacity="0.8"/><circle cx="914.4" cy="507.9" r="2.6" fill="#e8198c" fill-opacity="0.8"/><circle cx="914.7" cy="509.8" r="2.6" fill="#e8198c" fill-opacity="0.8"/><circle cx="915.0" cy="511.7" r="2.6" fill="#e8198c" fill-opacity="0.8"/><circle cx="915.2" cy="513.3" r="2.6" fill="#e8198c" fill-opacity="0.8"/><circle cx="915.5" cy="515.0" r="2.6" fill="#e8198c" fill-opacity="0.8"/><circle cx="915.7" cy="516.8" r="2.6" fill="#e8198c" fill-opacity="0.8"/><circle cx="916.0" cy="518.6" r="2.6" fill="#e8198c" fill-opacity="0.8"/><circle cx="916.2" cy="520.6" r="2.6" fill="#e8198c" fill-opacity="0.8"/><circle cx="916.4" cy="522.6" r="2.6" fill="#e8198c" fill-opacity="0.8"/><circle cx="916.6" cy="524.3" r="2.6" fill="#e8198c" fill-opacity="0.8"/><circle cx="916.8" cy="526.0" r="2.6" fill="#e8198c" fill-opacity="0.8"/><circle cx="917.0" cy="527.8" r="2.6" fill="#e8198c" fill-opacity="0.8"/><circle cx="917.2" cy="529.8" r="2.6" fill="#e8198c" fill-opacity="0.8"/><circle cx="917.4" cy="532.0" r="2.6" fill="#e8198c" fill-opacity="0.8"/><circle cx="917.5" cy="533.6" r="2.6" fill="#e8198c" fill-opacity="0.8"/><circle cx="917.6" cy="535.4" r="2.6" fill="#e8198c" fill-opacity="0.8"/><circle cx="917.7" cy="537.3" r="2.6" fill="#e8198c" fill-opacity="0.8"/><circle cx="917.8" cy="539.6" r="2.6" fill="#e8198c" fill-opacity="0.8"/><circle cx="918.0" cy="542.5" r="2.6" fill="#e8198c" fill-opacity="0.8"/><circle cx="918.0" cy="544.4" r="2.6" fill="#e8198c" fill-opacity="0.8"/><circle cx="918.1" cy="548.6" r="2.6" fill="#e8198c" fill-opacity="0.8"/><circle cx="919.7" cy="548.6" r="2.6" fill="#e8198c" fill-opacity="0.8"/><circle cx="921.4" cy="548.6" r="2.6" fill="#e8198c" fill-opacity="0.8"/><circle cx="923.0" cy="548.6" r="2.6" fill="#e8198c" fill-opacity="0.8"/><circle cx="924.6" cy="548.6" r="2.6" fill="#e8198c" fill-opacity="0.8"/><circle cx="926.3" cy="548.6" r="2.6" fill="#e8198c" fill-opacity="0.8"/><circle cx="927.9" cy="548.6" r="2.6" fill="#e8198c" fill-opacity="0.8"/><circle cx="929.6" cy="548.6" r="2.6" fill="#e8198c" fill-opacity="0.8"/><circle cx="931.2" cy="548.6" r="2.6" fill="#e8198c" fill-opacity="0.8"/><circle cx="932.8" cy="548.6" r="2.6" fill="#e8198c" fill-opacity="0.8"/><circle cx="934.5" cy="548.6" r="2.6" fill="#e8198c" fill-opacity="0.8"/><circle cx="936.1" cy="548.6" r="2.6" fill="#e8198c" fill-opacity="0.8"/><circle cx="937.8" cy="548.6" r="2.6" fill="#e8198c" fill-opacity="0.8"/><circle cx="939.4" cy="548.6" r="2.6" fill="#e8198c" fill-opacity="0.8"/><circle cx="941.0" cy="548.6" r="2.6" fill="#e8198c" fill-opacity="0.8"/><circle cx="942.7" cy="548.6" r="2.6" fill="#e8198c" fill-opacity="0.8"/><circle cx="944.3" cy="548.6" r="2.6" fill="#e8198c" fill-opacity="0.8"/><circle cx="946.0" cy="548.6" r="2.6" fill="#e8198c" fill-opacity="0.8"/><circle cx="947.6" cy="548.6" r="2.6" fill="#e8198c" fill-opacity="0.8"/><circle cx="949.2" cy="548.6" r="2.6" fill="#e8198c" fill-opacity="0.8"/><circle cx="950.9" cy="548.6" r="2.6" fill="#e8198c" fill-opacity="0.8"/><circle cx="952.5" cy="548.6" r="2.6" fill="#e8198c" fill-opacity="0.8"/><circle cx="954.1" cy="548.6" r="2.6" fill="#e8198c" fill-opacity="0.8"/><circle cx="955.8" cy="548.6" r="2.6" fill="#e8198c" fill-opacity="0.8"/><circle cx="957.4" cy="548.6" r="2.6" fill="#e8198c" fill-opacity="0.8"/><circle cx="959.1" cy="548.6" r="2.6" fill="#e8198c" fill-opacity="0.8"/><circle cx="960.7" cy="548.6" r="2.6" fill="#e8198c" fill-opacity="0.8"/><circle cx="962.3" cy="548.6" r="2.6" fill="#e8198c" fill-opacity="0.8"/><circle cx="964.0" cy="548.6" r="2.6" fill="#e8198c" fill-opacity="0.8"/><path d="M704.1,327.3 L707.1,330.5 L704.1,333.7 L701.1,330.5Z" fill="#0c7a14" fill-opacity="0.85"/><path d="M705.8,327.3 L708.8,330.5 L705.8,333.7 L702.8,330.5Z" fill="#0c7a14" fill-opacity="0.85"/><path d="M707.4,327.3 L710.4,330.5 L707.4,333.7 L704.4,330.5Z" fill="#0c7a14" fill-opacity="0.85"/><path d="M709.1,327.3 L712.1,330.5 L709.1,333.7 L706.1,330.5Z" fill="#0c7a14" fill-opacity="0.85"/><path d="M710.7,327.3 L713.7,330.5 L710.7,333.7 L707.7,330.5Z" fill="#0c7a14" fill-opacity="0.85"/><path d="M712.3,327.3 L715.3,330.5 L712.3,333.7 L709.3,330.5Z" fill="#0c7a14" fill-opacity="0.85"/><path d="M714.0,327.4 L717.0,330.6 L714.0,333.8 L711.0,330.6Z" fill="#0c7a14" fill-opacity="0.85"/><path d="M715.6,327.4 L718.6,330.6 L715.6,333.8 L712.6,330.6Z" fill="#0c7a14" fill-opacity="0.85"/><path d="M717.3,327.4 L720.3,330.6 L717.3,333.8 L714.3,330.6Z" fill="#0c7a14" fill-opacity="0.85"/><path d="M718.9,327.4 L721.9,330.6 L718.9,333.8 L715.9,330.6Z" fill="#0c7a14" fill-opacity="0.85"/><path d="M720.5,327.5 L723.5,330.7 L720.5,333.9 L717.5,330.7Z" fill="#0c7a14" fill-opacity="0.85"/><path d="M722.2,327.5 L725.2,330.7 L722.2,333.9 L719.2,330.7Z" fill="#0c7a14" fill-opacity="0.85"/><path d="M723.8,327.5 L726.8,330.7 L723.8,333.9 L720.8,330.7Z" fill="#0c7a14" fill-opacity="0.85"/><path d="M725.5,327.6 L728.5,330.8 L725.5,334.0 L722.5,330.8Z" fill="#0c7a14" fill-opacity="0.85"/><path d="M727.1,327.6 L730.1,330.8 L727.1,334.0 L724.1,330.8Z" fill="#0c7a14" fill-opacity="0.85"/><path d="M728.7,327.7 L731.7,330.9 L728.7,334.1 L725.7,330.9Z" fill="#0c7a14" fill-opacity="0.85"/><path d="M730.4,327.7 L733.4,330.9 L730.4,334.1 L727.4,330.9Z" fill="#0c7a14" fill-opacity="0.85"/><path d="M732.0,327.8 L735.0,331.0 L732.0,334.2 L729.0,331.0Z" fill="#0c7a14" fill-opacity="0.85"/><path d="M733.7,327.9 L736.7,331.1 L733.7,334.3 L730.7,331.1Z" fill="#0c7a14" fill-opacity="0.85"/><path d="M735.3,327.9 L738.3,331.1 L735.3,334.3 L732.3,331.1Z" fill="#0c7a14" fill-opacity="0.85"/><path d="M736.9,328.0 L739.9,331.2 L736.9,334.4 L733.9,331.2Z" fill="#0c7a14" fill-opacity="0.85"/><path d="M738.6,328.1 L741.6,331.3 L738.6,334.5 L735.6,331.3Z" fill="#0c7a14" fill-opacity="0.85"/><path d="M740.2,328.2 L743.2,331.4 L740.2,334.6 L737.2,331.4Z" fill="#0c7a14" fill-opacity="0.85"/><path d="M741.9,328.3 L744.9,331.5 L741.9,334.7 L738.9,331.5Z" fill="#0c7a14" fill-opacity="0.85"/><path d="M743.5,328.4 L746.5,331.6 L743.5,334.8 L740.5,331.6Z" fill="#0c7a14" fill-opacity="0.85"/><path d="M745.1,328.5 L748.1,331.7 L745.1,334.9 L742.1,331.7Z" fill="#0c7a14" fill-opacity="0.85"/><path d="M746.8,328.6 L749.8,331.8 L746.8,335.0 L743.8,331.8Z" fill="#0c7a14" fill-opacity="0.85"/><path d="M748.4,328.7 L751.4,331.9 L748.4,335.1 L745.4,331.9Z" fill="#0c7a14" fill-opacity="0.85"/><path d="M750.1,328.8 L753.1,332.0 L750.1,335.2 L747.1,332.0Z" fill="#0c7a14" fill-opacity="0.85"/><path d="M751.7,328.9 L754.7,332.1 L751.7,335.3 L748.7,332.1Z" fill="#0c7a14" fill-opacity="0.85"/><path d="M753.3,329.1 L756.3,332.3 L753.3,335.5 L750.3,332.3Z" fill="#0c7a14" fill-opacity="0.85"/><path d="M755.0,329.2 L758.0,332.4 L755.0,335.6 L752.0,332.4Z" fill="#0c7a14" fill-opacity="0.85"/><path d="M756.6,329.4 L759.6,332.6 L756.6,335.8 L753.6,332.6Z" fill="#0c7a14" fill-opacity="0.85"/><path d="M758.3,329.5 L761.3,332.7 L758.3,335.9 L755.3,332.7Z" fill="#0c7a14" fill-opacity="0.85"/><path d="M759.9,329.7 L762.9,332.9 L759.9,336.1 L756.9,332.9Z" fill="#0c7a14" fill-opacity="0.85"/><path d="M761.5,329.9 L764.5,333.1 L761.5,336.3 L758.5,333.1Z" fill="#0c7a14" fill-opacity="0.85"/><path d="M763.2,330.0 L766.2,333.2 L763.2,336.4 L760.2,333.2Z" fill="#0c7a14" fill-opacity="0.85"/><path d="M764.8,330.2 L767.8,333.4 L764.8,336.6 L761.8,333.4Z" fill="#0c7a14" fill-opacity="0.85"/><path d="M766.4,330.4 L769.4,333.6 L766.4,336.8 L763.4,333.6Z" fill="#0c7a14" fill-opacity="0.85"/><path d="M768.1,330.6 L771.1,333.8 L768.1,337.0 L765.1,333.8Z" fill="#0c7a14" fill-opacity="0.85"/><path d="M769.7,330.8 L772.7,334.0 L769.7,337.2 L766.7,334.0Z" fill="#0c7a14" fill-opacity="0.85"/><path d="M771.4,331.1 L774.4,334.3 L771.4,337.5 L768.4,334.3Z" fill="#0c7a14" fill-opacity="0.85"/><path d="M773.0,331.3 L776.0,334.5 L773.0,337.7 L770.0,334.5Z" fill="#0c7a14" fill-opacity="0.85"/><path d="M774.6,331.5 L777.6,334.7 L774.6,337.9 L771.6,334.7Z" fill="#0c7a14" fill-opacity="0.85"/><path d="M776.3,331.8 L779.3,335.0 L776.3,338.2 L773.3,335.0Z" fill="#0c7a14" fill-opacity="0.85"/><path d="M777.9,332.0 L780.9,335.2 L777.9,338.4 L774.9,335.2Z" fill="#0c7a14" fill-opacity="0.85"/><path d="M779.6,332.3 L782.6,335.5 L779.6,338.7 L776.6,335.5Z" fill="#0c7a14" fill-opacity="0.85"/><path d="M781.1,332.6 L784.1,335.8 L781.1,339.0 L778.1,335.8Z" fill="#0c7a14" fill-opacity="0.85"/><path d="M782.7,332.8 L785.7,336.0 L782.7,339.2 L779.7,336.0Z" fill="#0c7a14" fill-opacity="0.85"/><path d="M784.3,333.1 L787.3,336.3 L784.3,339.5 L781.3,336.3Z" fill="#0c7a14" fill-opacity="0.85"/><path d="M785.9,333.4 L788.9,336.6 L785.9,339.8 L782.9,336.6Z" fill="#0c7a14" fill-opacity="0.85"/><path d="M787.5,333.7 L790.5,336.9 L787.5,340.1 L784.5,336.9Z" fill="#0c7a14" fill-opacity="0.85"/><path d="M789.0,334.0 L792.0,337.2 L789.0,340.4 L786.0,337.2Z" fill="#0c7a14" fill-opacity="0.85"/><path d="M790.6,334.4 L793.6,337.6 L790.6,340.8 L787.6,337.6Z" fill="#0c7a14" fill-opacity="0.85"/><path d="M792.2,334.7 L795.2,337.9 L792.2,341.1 L789.2,337.9Z" fill="#0c7a14" fill-opacity="0.85"/><path d="M793.8,335.1 L796.8,338.3 L793.8,341.5 L790.8,338.3Z" fill="#0c7a14" fill-opacity="0.85"/><path d="M795.4,335.4 L798.4,338.6 L795.4,341.8 L792.4,338.6Z" fill="#0c7a14" fill-opacity="0.85"/><path d="M796.9,335.8 L799.9,339.0 L796.9,342.2 L793.9,339.0Z" fill="#0c7a14" fill-opacity="0.85"/><path d="M798.5,336.2 L801.5,339.4 L798.5,342.6 L795.5,339.4Z" fill="#0c7a14" fill-opacity="0.85"/><path d="M800.1,336.6 L803.1,339.8 L800.1,343.0 L797.1,339.8Z" fill="#0c7a14" fill-opacity="0.85"/><path d="M801.7,337.0 L804.7,340.2 L801.7,343.4 L798.7,340.2Z" fill="#0c7a14" fill-opacity="0.85"/><path d="M803.2,337.4 L806.2,340.6 L803.2,343.8 L800.2,340.6Z" fill="#0c7a14" fill-opacity="0.85"/><path d="M804.8,337.8 L807.8,341.0 L804.8,344.2 L801.8,341.0Z" fill="#0c7a14" fill-opacity="0.85"/><path d="M806.4,338.2 L809.4,341.4 L806.4,344.6 L803.4,341.4Z" fill="#0c7a14" fill-opacity="0.85"/><path d="M808.0,338.7 L811.0,341.9 L808.0,345.1 L805.0,341.9Z" fill="#0c7a14" fill-opacity="0.85"/><path d="M809.6,339.2 L812.6,342.4 L809.6,345.6 L806.6,342.4Z" fill="#0c7a14" fill-opacity="0.85"/><path d="M811.1,339.6 L814.1,342.8 L811.1,346.0 L808.1,342.8Z" fill="#0c7a14" fill-opacity="0.85"/><path d="M812.7,340.1 L815.7,343.3 L812.7,346.5 L809.7,343.3Z" fill="#0c7a14" fill-opacity="0.85"/><path d="M814.3,340.6 L817.3,343.8 L814.3,347.0 L811.3,343.8Z" fill="#0c7a14" fill-opacity="0.85"/><path d="M815.9,341.2 L818.9,344.4 L815.9,347.6 L812.9,344.4Z" fill="#0c7a14" fill-opacity="0.85"/><path d="M817.4,341.7 L820.4,344.9 L817.4,348.1 L814.4,344.9Z" fill="#0c7a14" fill-opacity="0.85"/><path d="M818.9,342.2 L821.9,345.4 L818.9,348.6 L815.9,345.4Z" fill="#0c7a14" fill-opacity="0.85"/><path d="M820.4,342.7 L823.4,345.9 L820.4,349.1 L817.4,345.9Z" fill="#0c7a14" fill-opacity="0.85"/><path d="M822.0,343.3 L825.0,346.5 L822.0,349.7 L819.0,346.5Z" fill="#0c7a14" fill-opacity="0.85"/><path d="M823.5,343.9 L826.5,347.1 L823.5,350.3 L820.5,347.1Z" fill="#0c7a14" fill-opacity="0.85"/><path d="M825.0,344.4 L828.0,347.6 L825.0,350.8 L822.0,347.6Z" fill="#0c7a14" fill-opacity="0.85"/><path d="M826.5,345.0 L829.5,348.2 L826.5,351.4 L823.5,348.2Z" fill="#0c7a14" fill-opacity="0.85"/><path d="M828.0,345.6 L831.0,348.8 L828.0,352.0 L825.0,348.8Z" fill="#0c7a14" fill-opacity="0.85"/><path d="M829.5,346.3 L832.5,349.5 L829.5,352.7 L826.5,349.5Z" fill="#0c7a14" fill-opacity="0.85"/><path d="M831.1,346.9 L834.1,350.1 L831.1,353.3 L828.1,350.1Z" fill="#0c7a14" fill-opacity="0.85"/><path d="M832.6,347.6 L835.6,350.8 L832.6,354.0 L829.6,350.8Z" fill="#0c7a14" fill-opacity="0.85"/><path d="M834.1,348.2 L837.1,351.4 L834.1,354.6 L831.1,351.4Z" fill="#0c7a14" fill-opacity="0.85"/><path d="M835.6,348.9 L838.6,352.1 L835.6,355.3 L832.6,352.1Z" fill="#0c7a14" fill-opacity="0.85"/><path d="M837.0,349.6 L840.0,352.8 L837.0,356.0 L834.0,352.8Z" fill="#0c7a14" fill-opacity="0.85"/><path d="M838.5,350.3 L841.5,353.5 L838.5,356.7 L835.5,353.5Z" fill="#0c7a14" fill-opacity="0.85"/><path d="M839.9,351.0 L842.9,354.2 L839.9,357.4 L836.9,354.2Z" fill="#0c7a14" fill-opacity="0.85"/><path d="M841.4,351.7 L844.4,354.9 L841.4,358.1 L838.4,354.9Z" fill="#0c7a14" fill-opacity="0.85"/><path d="M842.8,352.5 L845.8,355.7 L842.8,358.9 L839.8,355.7Z" fill="#0c7a14" fill-opacity="0.85"/><path d="M844.3,353.2 L847.3,356.4 L844.3,359.6 L841.3,356.4Z" fill="#0c7a14" fill-opacity="0.85"/><path d="M845.8,354.0 L848.8,357.2 L845.8,360.4 L842.8,357.2Z" fill="#0c7a14" fill-opacity="0.85"/><path d="M847.2,354.8 L850.2,358.0 L847.2,361.2 L844.2,358.0Z" fill="#0c7a14" fill-opacity="0.85"/><path d="M848.6,355.6 L851.6,358.8 L848.6,362.0 L845.6,358.8Z" fill="#0c7a14" fill-opacity="0.85"/><path d="M850.0,356.4 L853.0,359.6 L850.0,362.8 L847.0,359.6Z" fill="#0c7a14" fill-opacity="0.85"/><path d="M851.4,357.2 L854.4,360.4 L851.4,363.6 L848.4,360.4Z" fill="#0c7a14" fill-opacity="0.85"/><path d="M852.8,358.0 L855.8,361.2 L852.8,364.4 L849.8,361.2Z" fill="#0c7a14" fill-opacity="0.85"/><path d="M854.2,358.9 L857.2,362.1 L854.2,365.3 L851.2,362.1Z" fill="#0c7a14" fill-opacity="0.85"/><path d="M855.6,359.8 L858.6,363.0 L855.6,366.2 L852.6,363.0Z" fill="#0c7a14" fill-opacity="0.85"/><path d="M857.0,360.7 L860.0,363.9 L857.0,367.1 L854.0,363.9Z" fill="#0c7a14" fill-opacity="0.85"/><path d="M858.4,361.6 L861.4,364.8 L858.4,368.0 L855.4,364.8Z" fill="#0c7a14" fill-opacity="0.85"/><path d="M859.7,362.5 L862.7,365.7 L859.7,368.9 L856.7,365.7Z" fill="#0c7a14" fill-opacity="0.85"/><path d="M861.1,363.4 L864.1,366.6 L861.1,369.8 L858.1,366.6Z" fill="#0c7a14" fill-opacity="0.85"/><path d="M862.4,364.3 L865.4,367.5 L862.4,370.7 L859.4,367.5Z" fill="#0c7a14" fill-opacity="0.85"/><path d="M863.7,365.3 L866.7,368.5 L863.7,371.7 L860.7,368.5Z" fill="#0c7a14" fill-opacity="0.85"/><path d="M865.1,366.2 L868.1,369.4 L865.1,372.6 L862.1,369.4Z" fill="#0c7a14" fill-opacity="0.85"/><path d="M866.4,367.2 L869.4,370.4 L866.4,373.6 L863.4,370.4Z" fill="#0c7a14" fill-opacity="0.85"/><path d="M867.7,368.2 L870.7,371.4 L867.7,374.6 L864.7,371.4Z" fill="#0c7a14" fill-opacity="0.85"/><path d="M869.0,369.2 L872.0,372.4 L869.0,375.6 L866.0,372.4Z" fill="#0c7a14" fill-opacity="0.85"/><path d="M870.2,370.2 L873.2,373.4 L870.2,376.6 L867.2,373.4Z" fill="#0c7a14" fill-opacity="0.85"/><path d="M871.5,371.2 L874.5,374.4 L871.5,377.6 L868.5,374.4Z" fill="#0c7a14" fill-opacity="0.85"/><path d="M872.8,372.3 L875.8,375.5 L872.8,378.7 L869.8,375.5Z" fill="#0c7a14" fill-opacity="0.85"/><path d="M874.1,373.4 L877.1,376.6 L874.1,379.8 L871.1,376.6Z" fill="#0c7a14" fill-opacity="0.85"/><path d="M875.3,374.4 L878.3,377.6 L875.3,380.8 L872.3,377.6Z" fill="#0c7a14" fill-opacity="0.85"/><path d="M876.5,375.5 L879.5,378.7 L876.5,381.9 L873.5,378.7Z" fill="#0c7a14" fill-opacity="0.85"/><path d="M877.7,376.6 L880.7,379.8 L877.7,383.0 L874.7,379.8Z" fill="#0c7a14" fill-opacity="0.85"/><path d="M878.9,377.7 L881.9,380.9 L878.9,384.1 L875.9,380.9Z" fill="#0c7a14" fill-opacity="0.85"/><path d="M880.1,378.8 L883.1,382.0 L880.1,385.2 L877.1,382.0Z" fill="#0c7a14" fill-opacity="0.85"/><path d="M881.3,380.0 L884.3,383.2 L881.3,386.4 L878.3,383.2Z" fill="#0c7a14" fill-opacity="0.85"/><path d="M882.5,381.1 L885.5,384.3 L882.5,387.5 L879.5,384.3Z" fill="#0c7a14" fill-opacity="0.85"/><path d="M883.6,382.3 L886.6,385.5 L883.6,388.7 L880.6,385.5Z" fill="#0c7a14" fill-opacity="0.85"/><path d="M884.8,383.4 L887.8,386.6 L884.8,389.8 L881.8,386.6Z" fill="#0c7a14" fill-opacity="0.85"/><path d="M886.0,384.6 L889.0,387.8 L886.0,391.0 L883.0,387.8Z" fill="#0c7a14" fill-opacity="0.85"/><path d="M887.1,385.9 L890.1,389.1 L887.1,392.3 L884.1,389.1Z" fill="#0c7a14" fill-opacity="0.85"/><path d="M888.2,387.0 L891.2,390.2 L888.2,393.4 L885.2,390.2Z" fill="#0c7a14" fill-opacity="0.85"/><path d="M889.3,388.2 L892.3,391.4 L889.3,394.6 L886.3,391.4Z" fill="#0c7a14" fill-opacity="0.85"/><path d="M890.4,389.5 L893.4,392.7 L890.4,395.9 L887.4,392.7Z" fill="#0c7a14" fill-opacity="0.85"/><path d="M891.5,390.7 L894.5,393.9 L891.5,397.1 L888.5,393.9Z" fill="#0c7a14" fill-opacity="0.85"/><path d="M892.6,392.0 L895.6,395.2 L892.6,398.4 L889.6,395.2Z" fill="#0c7a14" fill-opacity="0.85"/><path d="M893.6,393.3 L896.6,396.5 L893.6,399.7 L890.6,396.5Z" fill="#0c7a14" fill-opacity="0.85"/><path d="M894.6,394.5 L897.6,397.7 L894.6,400.9 L891.6,397.7Z" fill="#0c7a14" fill-opacity="0.85"/><path d="M895.7,395.8 L898.7,399.0 L895.7,402.2 L892.7,399.0Z" fill="#0c7a14" fill-opacity="0.85"/><path d="M896.7,397.2 L899.7,400.4 L896.7,403.6 L893.7,400.4Z" fill="#0c7a14" fill-opacity="0.85"/><path d="M897.7,398.5 L900.7,401.7 L897.7,404.9 L894.7,401.7Z" fill="#0c7a14" fill-opacity="0.85"/><path d="M898.7,399.8 L901.7,403.0 L898.7,406.2 L895.7,403.0Z" fill="#0c7a14" fill-opacity="0.85"/><path d="M899.7,401.1 L902.7,404.3 L899.7,407.5 L896.7,404.3Z" fill="#0c7a14" fill-opacity="0.85"/><path d="M900.7,402.5 L903.7,405.7 L900.7,408.9 L897.7,405.7Z" fill="#0c7a14" fill-opacity="0.85"/><path d="M901.6,403.9 L904.6,407.1 L901.6,410.3 L898.6,407.1Z" fill="#0c7a14" fill-opacity="0.85"/><path d="M902.5,405.2 L905.5,408.4 L902.5,411.6 L899.5,408.4Z" fill="#0c7a14" fill-opacity="0.85"/><path d="M903.4,406.5 L906.4,409.7 L903.4,412.9 L900.4,409.7Z" fill="#0c7a14" fill-opacity="0.85"/><path d="M904.4,407.9 L907.4,411.1 L904.4,414.3 L901.4,411.1Z" fill="#0c7a14" fill-opacity="0.85"/><path d="M905.3,409.3 L908.3,412.5 L905.3,415.7 L902.3,412.5Z" fill="#0c7a14" fill-opacity="0.85"/><path d="M906.2,410.8 L909.2,414.0 L906.2,417.2 L903.2,414.0Z" fill="#0c7a14" fill-opacity="0.85"/><path d="M907.0,412.1 L910.0,415.3 L907.0,418.5 L904.0,415.3Z" fill="#0c7a14" fill-opacity="0.85"/><path d="M907.9,413.5 L910.9,416.7 L907.9,419.9 L904.9,416.7Z" fill="#0c7a14" fill-opacity="0.85"/><path d="M908.7,415.0 L911.7,418.2 L908.7,421.4 L905.7,418.2Z" fill="#0c7a14" fill-opacity="0.85"/><path d="M909.6,416.5 L912.6,419.7 L909.6,422.9 L906.6,419.7Z" fill="#0c7a14" fill-opacity="0.85"/><path d="M910.4,417.8 L913.4,421.0 L910.4,424.2 L907.4,421.0Z" fill="#0c7a14" fill-opacity="0.85"/><path d="M911.2,419.3 L914.2,422.5 L911.2,425.7 L908.2,422.5Z" fill="#0c7a14" fill-opacity="0.85"/><path d="M911.9,420.7 L914.9,423.9 L911.9,427.1 L908.9,423.9Z" fill="#0c7a14" fill-opacity="0.85"/><path d="M912.7,422.2 L915.7,425.4 L912.7,428.6 L909.7,425.4Z" fill="#0c7a14" fill-opacity="0.85"/><path d="M913.5,423.7 L916.5,426.9 L913.5,430.1 L910.5,426.9Z" fill="#0c7a14" fill-opacity="0.85"/><path d="M914.3,425.2 L917.3,428.4 L914.3,431.6 L911.3,428.4Z" fill="#0c7a14" fill-opacity="0.85"/><path d="M915.0,426.6 L918.0,429.8 L915.0,433.0 L912.0,429.8Z" fill="#0c7a14" fill-opacity="0.85"/><path d="M915.7,428.1 L918.7,431.3 L915.7,434.5 L912.7,431.3Z" fill="#0c7a14" fill-opacity="0.85"/><path d="M916.4,429.7 L919.4,432.9 L916.4,436.1 L913.4,432.9Z" fill="#0c7a14" fill-opacity="0.85"/><path d="M917.2,431.3 L920.2,434.5 L917.2,437.7 L914.2,434.5Z" fill="#0c7a14" fill-opacity="0.85"/><path d="M917.8,432.7 L920.8,435.9 L917.8,439.1 L914.8,435.9Z" fill="#0c7a14" fill-opacity="0.85"/><path d="M918.5,434.3 L921.5,437.5 L918.5,440.7 L915.5,437.5Z" fill="#0c7a14" fill-opacity="0.85"/><path d="M919.2,435.8 L922.2,439.0 L919.2,442.2 L916.2,439.0Z" fill="#0c7a14" fill-opacity="0.85"/><path d="M919.8,437.4 L922.8,440.6 L919.8,443.8 L916.8,440.6Z" fill="#0c7a14" fill-opacity="0.85"/><path d="M920.4,438.9 L923.4,442.1 L920.4,445.3 L917.4,442.1Z" fill="#0c7a14" fill-opacity="0.85"/><path d="M921.1,440.4 L924.1,443.6 L921.1,446.8 L918.1,443.6Z" fill="#0c7a14" fill-opacity="0.85"/><path d="M921.7,442.0 L924.7,445.2 L921.7,448.4 L918.7,445.2Z" fill="#0c7a14" fill-opacity="0.85"/><path d="M922.3,443.6 L925.3,446.8 L922.3,450.0 L919.3,446.8Z" fill="#0c7a14" fill-opacity="0.85"/><path d="M922.9,445.2 L925.9,448.4 L922.9,451.6 L919.9,448.4Z" fill="#0c7a14" fill-opacity="0.85"/><path d="M923.4,446.7 L926.4,449.9 L923.4,453.1 L920.4,449.9Z" fill="#0c7a14" fill-opacity="0.85"/><path d="M924.0,448.3 L927.0,451.5 L924.0,454.7 L921.0,451.5Z" fill="#0c7a14" fill-opacity="0.85"/><path d="M924.5,449.9 L927.5,453.1 L924.5,456.3 L921.5,453.1Z" fill="#0c7a14" fill-opacity="0.85"/><path d="M925.1,451.5 L928.1,454.7 L925.1,457.9 L922.1,454.7Z" fill="#0c7a14" fill-opacity="0.85"/><path d="M925.6,453.2 L928.6,456.4 L925.6,459.6 L922.6,456.4Z" fill="#0c7a14" fill-opacity="0.85"/><path d="M926.1,454.7 L929.1,457.9 L926.1,461.1 L923.1,457.9Z" fill="#0c7a14" fill-opacity="0.85"/><path d="M926.6,456.3 L929.6,459.5 L926.6,462.7 L923.6,459.5Z" fill="#0c7a14" fill-opacity="0.85"/><path d="M927.1,457.9 L930.1,461.1 L927.1,464.3 L924.1,461.1Z" fill="#0c7a14" fill-opacity="0.85"/><path d="M927.6,459.6 L930.6,462.8 L927.6,466.0 L924.6,462.8Z" fill="#0c7a14" fill-opacity="0.85"/><path d="M928.0,461.3 L931.0,464.5 L928.0,467.7 L925.0,464.5Z" fill="#0c7a14" fill-opacity="0.85"/><path d="M928.5,462.9 L931.5,466.1 L928.5,469.3 L925.5,466.1Z" fill="#0c7a14" fill-opacity="0.85"/><path d="M928.9,464.5 L931.9,467.7 L928.9,470.9 L925.9,467.7Z" fill="#0c7a14" fill-opacity="0.85"/><path d="M929.3,466.2 L932.3,469.4 L929.3,472.6 L926.3,469.4Z" fill="#0c7a14" fill-opacity="0.85"/><path d="M929.7,467.9 L932.7,471.1 L929.7,474.3 L926.7,471.1Z" fill="#0c7a14" fill-opacity="0.85"/><path d="M930.2,469.6 L933.2,472.8 L930.2,476.0 L927.2,472.8Z" fill="#0c7a14" fill-opacity="0.85"/><path d="M930.5,471.2 L933.5,474.4 L930.5,477.6 L927.5,474.4Z" fill="#0c7a14" fill-opacity="0.85"/><path d="M930.9,472.8 L933.9,476.0 L930.9,479.2 L927.9,476.0Z" fill="#0c7a14" fill-opacity="0.85"/><path d="M931.3,474.5 L934.3,477.7 L931.3,480.9 L928.3,477.7Z" fill="#0c7a14" fill-opacity="0.85"/><path d="M931.6,476.2 L934.6,479.4 L931.6,482.6 L928.6,479.4Z" fill="#0c7a14" fill-opacity="0.85"/><path d="M932.0,478.0 L935.0,481.2 L932.0,484.4 L929.0,481.2Z" fill="#0c7a14" fill-opacity="0.85"/><path d="M932.3,479.8 L935.3,483.0 L932.3,486.2 L929.3,483.0Z" fill="#0c7a14" fill-opacity="0.85"/><path d="M932.7,481.5 L935.7,484.7 L932.7,487.9 L929.7,484.7Z" fill="#0c7a14" fill-opacity="0.85"/><path d="M933.0,483.1 L936.0,486.3 L933.0,489.5 L930.0,486.3Z" fill="#0c7a14" fill-opacity="0.85"/><path d="M933.3,484.9 L936.3,488.1 L933.3,491.3 L930.3,488.1Z" fill="#0c7a14" fill-opacity="0.85"/><path d="M933.6,486.7 L936.6,489.9 L933.6,493.1 L930.6,489.9Z" fill="#0c7a14" fill-opacity="0.85"/><path d="M933.9,488.6 L936.9,491.8 L933.9,495.0 L930.9,491.8Z" fill="#0c7a14" fill-opacity="0.85"/><path d="M934.1,490.2 L937.1,493.4 L934.1,496.6 L931.1,493.4Z" fill="#0c7a14" fill-opacity="0.85"/><path d="M934.4,491.8 L937.4,495.0 L934.4,498.2 L931.4,495.0Z" fill="#0c7a14" fill-opacity="0.85"/><path d="M934.6,493.5 L937.6,496.7 L934.6,499.9 L931.6,496.7Z" fill="#0c7a14" fill-opacity="0.85"/><path d="M934.8,495.4 L937.8,498.6 L934.8,501.8 L931.8,498.6Z" fill="#0c7a14" fill-opacity="0.85"/><path d="M935.1,497.3 L938.1,500.5 L935.1,503.7 L932.1,500.5Z" fill="#0c7a14" fill-opacity="0.85"/><path d="M935.3,499.3 L938.3,502.5 L935.3,505.7 L932.3,502.5Z" fill="#0c7a14" fill-opacity="0.85"/><path d="M935.5,500.9 L938.5,504.1 L935.5,507.3 L932.5,504.1Z" fill="#0c7a14" fill-opacity="0.85"/><path d="M935.7,502.6 L938.7,505.8 L935.7,509.0 L932.7,505.8Z" fill="#0c7a14" fill-opacity="0.85"/><path d="M935.9,504.4 L938.9,507.6 L935.9,510.8 L932.9,507.6Z" fill="#0c7a14" fill-opacity="0.85"/><path d="M936.1,506.3 L939.1,509.5 L936.1,512.7 L933.1,509.5Z" fill="#0c7a14" fill-opacity="0.85"/><path d="M936.2,508.3 L939.2,511.5 L936.2,514.7 L933.2,511.5Z" fill="#0c7a14" fill-opacity="0.85"/><path d="M936.4,510.5 L939.4,513.7 L936.4,516.9 L933.4,513.7Z" fill="#0c7a14" fill-opacity="0.85"/><path d="M936.6,512.9 L939.6,516.1 L936.6,519.3 L933.6,516.1Z" fill="#0c7a14" fill-opacity="0.85"/><path d="M936.7,514.6 L939.7,517.8 L936.7,521.0 L933.7,517.8Z" fill="#0c7a14" fill-opacity="0.85"/><path d="M936.8,516.5 L939.8,519.7 L936.8,522.9 L933.8,519.7Z" fill="#0c7a14" fill-opacity="0.85"/><path d="M937.0,518.6 L940.0,521.8 L937.0,525.0 L934.0,521.8Z" fill="#0c7a14" fill-opacity="0.85"/><path d="M937.1,520.9 L940.1,524.1 L937.1,527.3 L934.1,524.1Z" fill="#0c7a14" fill-opacity="0.85"/><path d="M937.2,523.6 L940.2,526.8 L937.2,530.0 L934.2,526.8Z" fill="#0c7a14" fill-opacity="0.85"/><path d="M937.3,526.8 L940.3,530.0 L937.3,533.2 L934.3,530.0Z" fill="#0c7a14" fill-opacity="0.85"/><path d="M937.4,528.7 L940.4,531.9 L937.4,535.1 L934.4,531.9Z" fill="#0c7a14" fill-opacity="0.85"/><path d="M937.5,531.0 L940.5,534.2 L937.5,537.4 L934.5,534.2Z" fill="#0c7a14" fill-opacity="0.85"/><path d="M937.5,534.0 L940.5,537.2 L937.5,540.4 L934.5,537.2Z" fill="#0c7a14" fill-opacity="0.85"/><path d="M937.6,538.7 L940.6,541.9 L937.6,545.1 L934.6,541.9Z" fill="#0c7a14" fill-opacity="0.85"/><path d="M937.6,545.4 L940.6,548.6 L937.6,551.8 L934.6,548.6Z" fill="#0c7a14" fill-opacity="0.85"/><path d="M939.3,545.4 L942.3,548.6 L939.3,551.8 L936.3,548.6Z" fill="#0c7a14" fill-opacity="0.85"/><path d="M940.9,545.4 L943.9,548.6 L940.9,551.8 L937.9,548.6Z" fill="#0c7a14" fill-opacity="0.85"/><path d="M942.6,545.4 L945.6,548.6 L942.6,551.8 L939.6,548.6Z" fill="#0c7a14" fill-opacity="0.85"/><path d="M944.2,545.4 L947.2,548.6 L944.2,551.8 L941.2,548.6Z" fill="#0c7a14" fill-opacity="0.85"/><path d="M945.8,545.4 L948.8,548.6 L945.8,551.8 L942.8,548.6Z" fill="#0c7a14" fill-opacity="0.85"/><path d="M947.5,545.4 L950.5,548.6 L947.5,551.8 L944.5,548.6Z" fill="#0c7a14" fill-opacity="0.85"/><path d="M949.1,545.4 L952.1,548.6 L949.1,551.8 L946.1,548.6Z" fill="#0c7a14" fill-opacity="0.85"/><path d="M950.7,545.4 L953.7,548.6 L950.7,551.8 L947.7,548.6Z" fill="#0c7a14" fill-opacity="0.85"/><path d="M952.4,545.4 L955.4,548.6 L952.4,551.8 L949.4,548.6Z" fill="#0c7a14" fill-opacity="0.85"/><path d="M954.0,545.4 L957.0,548.6 L954.0,551.8 L951.0,548.6Z" fill="#0c7a14" fill-opacity="0.85"/><path d="M955.7,545.4 L958.7,548.6 L955.7,551.8 L952.7,548.6Z" fill="#0c7a14" fill-opacity="0.85"/><path d="M957.3,545.4 L960.3,548.6 L957.3,551.8 L954.3,548.6Z" fill="#0c7a14" fill-opacity="0.85"/><path d="M958.9,545.4 L961.9,548.6 L958.9,551.8 L955.9,548.6Z" fill="#0c7a14" fill-opacity="0.85"/><path d="M960.6,545.4 L963.6,548.6 L960.6,551.8 L957.6,548.6Z" fill="#0c7a14" fill-opacity="0.85"/><path d="M962.2,545.4 L965.2,548.6 L962.2,551.8 L959.2,548.6Z" fill="#0c7a14" fill-opacity="0.85"/><path d="M963.9,545.4 L966.9,548.6 L963.9,551.8 L960.9,548.6Z" fill="#0c7a14" fill-opacity="0.85"/><line x1="868.5" y1="340.4" x2="894.5" y2="340.4" stroke="#e88cc0" stroke-width="1.2"/><circle cx="881.8" cy="340.4" r="2.8" fill="#e860a8"/><line x1="868.5" y1="354.6" x2="894.5" y2="354.6" stroke="#7ab07a" stroke-width="1.2"/><path d="M881.8,351 L885,354.6 L881.8,358.2 L878.6,354.6Z" fill="#2a8a2a"/><text x="897" y="344.5" font-size="11.5" fill="#111"><tspan font-style="italic">μ</tspan>* = 0.13</text><text x="897" y="358.5" font-size="11.5" fill="#111"><tspan font-style="italic">μ</tspan>* = 0.1</text></g>
</svg></body></html>
